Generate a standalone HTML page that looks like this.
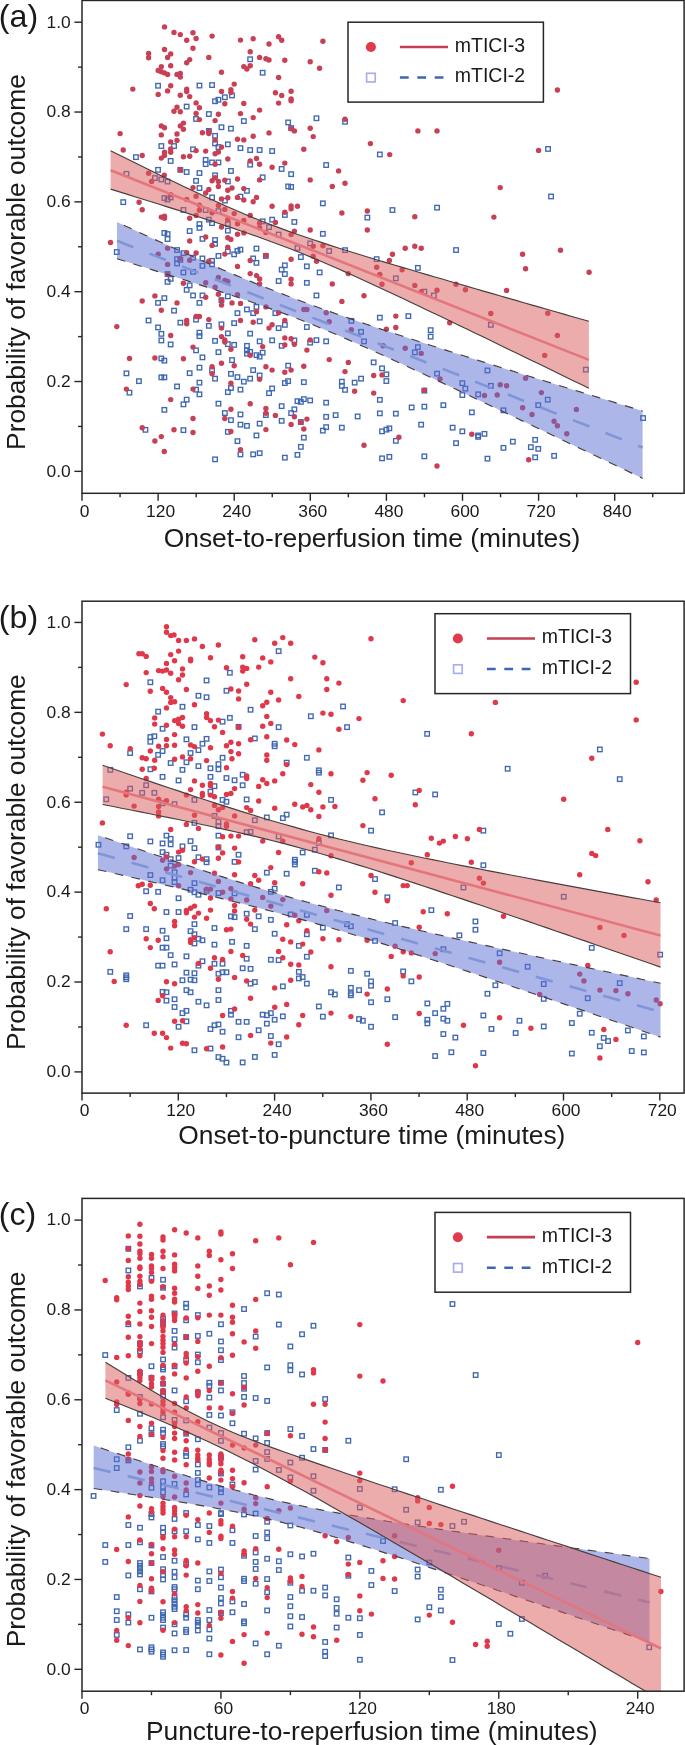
<!DOCTYPE html>
<html><head><meta charset="utf-8"><title>Probability of favorable outcome</title>
<style>html,body{margin:0;padding:0;background:#fff}svg{display:block;will-change:transform}text{font-family:"Liberation Sans",sans-serif;fill:#1a1a1a}</style></head><body>
<svg width="685" height="1745" viewBox="0 0 685 1745">
<rect width="685" height="1745" fill="#fff"/>
<g id="panel-a">
<clipPath id="clipa"><rect x="82.0" y="0.45" width="602.1" height="492.85"/></clipPath>
<g>
<g fill="none" stroke="#4068B2" stroke-width="1.35">
<rect x="155.8" y="83.5" width="4.5" height="4.5"/>
<rect x="197.2" y="83.3" width="4.5" height="4.5"/>
<rect x="209.8" y="82.8" width="4.5" height="4.5"/>
<rect x="184.4" y="104.3" width="4.5" height="4.5"/>
<rect x="212.8" y="99.0" width="4.5" height="4.5"/>
<rect x="216.2" y="97.5" width="4.5" height="4.5"/>
<rect x="222.6" y="95.0" width="4.5" height="4.5"/>
<rect x="229.8" y="93.2" width="4.5" height="4.5"/>
<rect x="206.6" y="111.8" width="4.5" height="4.5"/>
<rect x="193.8" y="116.7" width="4.5" height="4.5"/>
<rect x="219.2" y="125.0" width="4.5" height="4.5"/>
<rect x="228.7" y="126.4" width="4.5" height="4.5"/>
<rect x="206.6" y="128.7" width="4.5" height="4.5"/>
<rect x="212.8" y="133.6" width="4.5" height="4.5"/>
<rect x="212.8" y="141.2" width="4.5" height="4.5"/>
<rect x="216.2" y="144.8" width="4.5" height="4.5"/>
<rect x="225.6" y="142.1" width="4.5" height="4.5"/>
<rect x="159.1" y="143.8" width="4.5" height="4.5"/>
<rect x="171.8" y="143.8" width="4.5" height="4.5"/>
<rect x="190.8" y="147.1" width="4.5" height="4.5"/>
<rect x="133.7" y="154.9" width="4.5" height="4.5"/>
<rect x="168.4" y="158.7" width="4.5" height="4.5"/>
<rect x="203.4" y="157.6" width="4.5" height="4.5"/>
<rect x="209.8" y="160.2" width="4.5" height="4.5"/>
<rect x="216.2" y="160.2" width="4.5" height="4.5"/>
<rect x="203.4" y="161.9" width="4.5" height="4.5"/>
<rect x="247.9" y="57.0" width="4.5" height="4.5"/>
<rect x="260.4" y="70.5" width="4.5" height="4.5"/>
<rect x="241.6" y="118.8" width="4.5" height="4.5"/>
<rect x="285.9" y="120.2" width="4.5" height="4.5"/>
<rect x="288.9" y="125.8" width="4.5" height="4.5"/>
<rect x="314.2" y="116.0" width="4.5" height="4.5"/>
<rect x="342.8" y="119.5" width="4.5" height="4.5"/>
<rect x="238.2" y="145.9" width="4.5" height="4.5"/>
<rect x="247.9" y="147.8" width="4.5" height="4.5"/>
<rect x="257.4" y="147.8" width="4.5" height="4.5"/>
<rect x="269.9" y="148.8" width="4.5" height="4.5"/>
<rect x="377.6" y="152.2" width="4.5" height="4.5"/>
<rect x="247.9" y="162.4" width="4.5" height="4.5"/>
<rect x="323.9" y="162.8" width="4.5" height="4.5"/>
<rect x="545.8" y="146.7" width="4.5" height="4.5"/>
<rect x="124.2" y="171.6" width="4.5" height="4.5"/>
<rect x="155.8" y="167.6" width="4.5" height="4.5"/>
<rect x="152.7" y="175.8" width="4.5" height="4.5"/>
<rect x="159.1" y="177.2" width="4.5" height="4.5"/>
<rect x="165.3" y="179.3" width="4.5" height="4.5"/>
<rect x="178.1" y="167.6" width="4.5" height="4.5"/>
<rect x="184.4" y="169.8" width="4.5" height="4.5"/>
<rect x="197.2" y="170.8" width="4.5" height="4.5"/>
<rect x="193.8" y="178.6" width="4.5" height="4.5"/>
<rect x="197.2" y="185.8" width="4.5" height="4.5"/>
<rect x="212.8" y="173.1" width="4.5" height="4.5"/>
<rect x="225.6" y="179.2" width="4.5" height="4.5"/>
<rect x="228.7" y="168.7" width="4.5" height="4.5"/>
<rect x="209.8" y="195.2" width="4.5" height="4.5"/>
<rect x="222.6" y="198.4" width="4.5" height="4.5"/>
<rect x="162.1" y="195.8" width="4.5" height="4.5"/>
<rect x="165.3" y="197.3" width="4.5" height="4.5"/>
<rect x="168.4" y="195.2" width="4.5" height="4.5"/>
<rect x="181.2" y="207.7" width="4.5" height="4.5"/>
<rect x="203.4" y="207.8" width="4.5" height="4.5"/>
<rect x="216.2" y="208.9" width="4.5" height="4.5"/>
<rect x="206.6" y="217.4" width="4.5" height="4.5"/>
<rect x="209.8" y="220.9" width="4.5" height="4.5"/>
<rect x="197.2" y="221.8" width="4.5" height="4.5"/>
<rect x="197.2" y="225.6" width="4.5" height="4.5"/>
<rect x="225.6" y="221.8" width="4.5" height="4.5"/>
<rect x="225.6" y="228.4" width="4.5" height="4.5"/>
<rect x="121.0" y="199.9" width="4.5" height="4.5"/>
<rect x="187.4" y="228.8" width="4.5" height="4.5"/>
<rect x="162.1" y="230.7" width="4.5" height="4.5"/>
<rect x="165.3" y="231.8" width="4.5" height="4.5"/>
<rect x="165.3" y="236.8" width="4.5" height="4.5"/>
<rect x="200.2" y="236.6" width="4.5" height="4.5"/>
<rect x="212.8" y="237.8" width="4.5" height="4.5"/>
<rect x="212.8" y="241.6" width="4.5" height="4.5"/>
<rect x="114.5" y="249.8" width="4.5" height="4.5"/>
<rect x="174.8" y="247.8" width="4.5" height="4.5"/>
<rect x="181.2" y="250.9" width="4.5" height="4.5"/>
<rect x="190.8" y="255.4" width="4.5" height="4.5"/>
<rect x="200.2" y="256.2" width="4.5" height="4.5"/>
<rect x="209.8" y="258.6" width="4.5" height="4.5"/>
<rect x="209.8" y="262.1" width="4.5" height="4.5"/>
<rect x="200.2" y="263.6" width="4.5" height="4.5"/>
<rect x="216.2" y="253.7" width="4.5" height="4.5"/>
<rect x="225.6" y="249.2" width="4.5" height="4.5"/>
<rect x="174.8" y="256.9" width="4.5" height="4.5"/>
<rect x="174.8" y="261.2" width="4.5" height="4.5"/>
<rect x="178.1" y="257.6" width="4.5" height="4.5"/>
<rect x="181.2" y="270.2" width="4.5" height="4.5"/>
<rect x="190.8" y="269.6" width="4.5" height="4.5"/>
<rect x="165.3" y="271.8" width="4.5" height="4.5"/>
<rect x="168.4" y="276.6" width="4.5" height="4.5"/>
<rect x="165.3" y="279.6" width="4.5" height="4.5"/>
<rect x="187.4" y="283.1" width="4.5" height="4.5"/>
<rect x="184.4" y="287.6" width="4.5" height="4.5"/>
<rect x="190.8" y="293.2" width="4.5" height="4.5"/>
<rect x="200.2" y="293.2" width="4.5" height="4.5"/>
<rect x="225.6" y="294.1" width="4.5" height="4.5"/>
<rect x="162.1" y="295.9" width="4.5" height="4.5"/>
<rect x="155.8" y="300.6" width="4.5" height="4.5"/>
<rect x="197.2" y="300.6" width="4.5" height="4.5"/>
<rect x="219.2" y="297.9" width="4.5" height="4.5"/>
<rect x="171.8" y="308.4" width="4.5" height="4.5"/>
<rect x="146.3" y="318.2" width="4.5" height="4.5"/>
<rect x="178.1" y="320.4" width="4.5" height="4.5"/>
<rect x="193.8" y="317.4" width="4.5" height="4.5"/>
<rect x="206.6" y="323.6" width="4.5" height="4.5"/>
<rect x="219.2" y="322.1" width="4.5" height="4.5"/>
<rect x="155.8" y="325.2" width="4.5" height="4.5"/>
<rect x="279.4" y="166.7" width="4.5" height="4.5"/>
<rect x="288.9" y="171.9" width="4.5" height="4.5"/>
<rect x="260.4" y="175.1" width="4.5" height="4.5"/>
<rect x="285.9" y="184.2" width="4.5" height="4.5"/>
<rect x="288.9" y="184.7" width="4.5" height="4.5"/>
<rect x="244.7" y="188.6" width="4.5" height="4.5"/>
<rect x="238.2" y="194.4" width="4.5" height="4.5"/>
<rect x="320.6" y="201.1" width="4.5" height="4.5"/>
<rect x="282.6" y="212.7" width="4.5" height="4.5"/>
<rect x="269.9" y="217.4" width="4.5" height="4.5"/>
<rect x="260.4" y="219.1" width="4.5" height="4.5"/>
<rect x="292.1" y="219.7" width="4.5" height="4.5"/>
<rect x="266.8" y="224.9" width="4.5" height="4.5"/>
<rect x="276.4" y="232.3" width="4.5" height="4.5"/>
<rect x="320.6" y="231.6" width="4.5" height="4.5"/>
<rect x="365.1" y="215.3" width="4.5" height="4.5"/>
<rect x="307.9" y="241.2" width="4.5" height="4.5"/>
<rect x="295.2" y="245.9" width="4.5" height="4.5"/>
<rect x="326.9" y="248.8" width="4.5" height="4.5"/>
<rect x="342.8" y="247.9" width="4.5" height="4.5"/>
<rect x="374.4" y="256.9" width="4.5" height="4.5"/>
<rect x="254.2" y="246.3" width="4.5" height="4.5"/>
<rect x="238.2" y="247.4" width="4.5" height="4.5"/>
<rect x="235.2" y="248.6" width="4.5" height="4.5"/>
<rect x="231.9" y="252.1" width="4.5" height="4.5"/>
<rect x="250.9" y="256.2" width="4.5" height="4.5"/>
<rect x="254.2" y="260.6" width="4.5" height="4.5"/>
<rect x="263.6" y="253.7" width="4.5" height="4.5"/>
<rect x="298.6" y="254.8" width="4.5" height="4.5"/>
<rect x="282.6" y="263.1" width="4.5" height="4.5"/>
<rect x="279.4" y="267.4" width="4.5" height="4.5"/>
<rect x="282.6" y="271.8" width="4.5" height="4.5"/>
<rect x="304.6" y="264.1" width="4.5" height="4.5"/>
<rect x="317.4" y="270.2" width="4.5" height="4.5"/>
<rect x="276.4" y="278.8" width="4.5" height="4.5"/>
<rect x="304.6" y="280.6" width="4.5" height="4.5"/>
<rect x="314.2" y="293.2" width="4.5" height="4.5"/>
<rect x="254.2" y="304.6" width="4.5" height="4.5"/>
<rect x="244.7" y="307.2" width="4.5" height="4.5"/>
<rect x="250.9" y="310.9" width="4.5" height="4.5"/>
<rect x="235.2" y="310.9" width="4.5" height="4.5"/>
<rect x="273.1" y="310.9" width="4.5" height="4.5"/>
<rect x="257.4" y="319.1" width="4.5" height="4.5"/>
<rect x="231.9" y="320.9" width="4.5" height="4.5"/>
<rect x="282.6" y="322.6" width="4.5" height="4.5"/>
<rect x="276.4" y="325.9" width="4.5" height="4.5"/>
<rect x="304.6" y="324.8" width="4.5" height="4.5"/>
<rect x="349.1" y="318.6" width="4.5" height="4.5"/>
<rect x="377.6" y="315.4" width="4.5" height="4.5"/>
<rect x="390.2" y="207.8" width="4.5" height="4.5"/>
<rect x="434.8" y="205.4" width="4.5" height="4.5"/>
<rect x="453.8" y="247.8" width="4.5" height="4.5"/>
<rect x="415.6" y="265.6" width="4.5" height="4.5"/>
<rect x="393.6" y="276.1" width="4.5" height="4.5"/>
<rect x="422.1" y="289.4" width="4.5" height="4.5"/>
<rect x="431.6" y="293.2" width="4.5" height="4.5"/>
<rect x="406.1" y="313.9" width="4.5" height="4.5"/>
<rect x="488.6" y="322.6" width="4.5" height="4.5"/>
<rect x="428.4" y="327.9" width="4.5" height="4.5"/>
<rect x="548.8" y="194.2" width="4.5" height="4.5"/>
<rect x="159.1" y="331.6" width="4.5" height="4.5"/>
<rect x="159.1" y="338.2" width="4.5" height="4.5"/>
<rect x="168.4" y="342.2" width="4.5" height="4.5"/>
<rect x="197.2" y="330.4" width="4.5" height="4.5"/>
<rect x="197.2" y="333.9" width="4.5" height="4.5"/>
<rect x="225.6" y="331.1" width="4.5" height="4.5"/>
<rect x="212.8" y="338.6" width="4.5" height="4.5"/>
<rect x="225.6" y="341.9" width="4.5" height="4.5"/>
<rect x="193.8" y="348.1" width="4.5" height="4.5"/>
<rect x="216.2" y="349.9" width="4.5" height="4.5"/>
<rect x="200.2" y="355.1" width="4.5" height="4.5"/>
<rect x="159.1" y="356.2" width="4.5" height="4.5"/>
<rect x="162.1" y="358.4" width="4.5" height="4.5"/>
<rect x="229.8" y="357.9" width="4.5" height="4.5"/>
<rect x="197.2" y="365.4" width="4.5" height="4.5"/>
<rect x="209.8" y="368.1" width="4.5" height="4.5"/>
<rect x="187.4" y="370.9" width="4.5" height="4.5"/>
<rect x="228.7" y="371.6" width="4.5" height="4.5"/>
<rect x="124.2" y="371.1" width="4.5" height="4.5"/>
<rect x="159.1" y="375.1" width="4.5" height="4.5"/>
<rect x="162.1" y="375.1" width="4.5" height="4.5"/>
<rect x="212.8" y="376.4" width="4.5" height="4.5"/>
<rect x="136.7" y="378.9" width="4.5" height="4.5"/>
<rect x="197.2" y="380.4" width="4.5" height="4.5"/>
<rect x="174.8" y="384.2" width="4.5" height="4.5"/>
<rect x="193.8" y="387.4" width="4.5" height="4.5"/>
<rect x="197.2" y="392.1" width="4.5" height="4.5"/>
<rect x="127.2" y="390.4" width="4.5" height="4.5"/>
<rect x="225.6" y="389.9" width="4.5" height="4.5"/>
<rect x="228.7" y="385.8" width="4.5" height="4.5"/>
<rect x="184.4" y="397.4" width="4.5" height="4.5"/>
<rect x="181.2" y="402.1" width="4.5" height="4.5"/>
<rect x="216.2" y="401.4" width="4.5" height="4.5"/>
<rect x="162.1" y="407.6" width="4.5" height="4.5"/>
<rect x="222.6" y="410.8" width="4.5" height="4.5"/>
<rect x="228.7" y="417.9" width="4.5" height="4.5"/>
<rect x="143.2" y="427.6" width="4.5" height="4.5"/>
<rect x="181.2" y="427.9" width="4.5" height="4.5"/>
<rect x="225.6" y="429.6" width="4.5" height="4.5"/>
<rect x="212.8" y="457.1" width="4.5" height="4.5"/>
<rect x="247.9" y="331.4" width="4.5" height="4.5"/>
<rect x="269.9" y="338.1" width="4.5" height="4.5"/>
<rect x="257.4" y="339.1" width="4.5" height="4.5"/>
<rect x="292.1" y="338.2" width="4.5" height="4.5"/>
<rect x="307.9" y="340.4" width="4.5" height="4.5"/>
<rect x="314.2" y="337.9" width="4.5" height="4.5"/>
<rect x="323.9" y="339.1" width="4.5" height="4.5"/>
<rect x="279.4" y="343.6" width="4.5" height="4.5"/>
<rect x="231.9" y="342.6" width="4.5" height="4.5"/>
<rect x="244.7" y="343.6" width="4.5" height="4.5"/>
<rect x="244.7" y="348.1" width="4.5" height="4.5"/>
<rect x="247.9" y="349.6" width="4.5" height="4.5"/>
<rect x="244.7" y="351.4" width="4.5" height="4.5"/>
<rect x="254.2" y="352.9" width="4.5" height="4.5"/>
<rect x="257.4" y="354.4" width="4.5" height="4.5"/>
<rect x="260.4" y="350.4" width="4.5" height="4.5"/>
<rect x="285.9" y="363.4" width="4.5" height="4.5"/>
<rect x="250.9" y="367.9" width="4.5" height="4.5"/>
<rect x="257.4" y="373.2" width="4.5" height="4.5"/>
<rect x="235.2" y="374.9" width="4.5" height="4.5"/>
<rect x="241.6" y="379.4" width="4.5" height="4.5"/>
<rect x="247.9" y="376.4" width="4.5" height="4.5"/>
<rect x="285.9" y="378.9" width="4.5" height="4.5"/>
<rect x="282.6" y="380.8" width="4.5" height="4.5"/>
<rect x="301.6" y="379.9" width="4.5" height="4.5"/>
<rect x="238.2" y="387.4" width="4.5" height="4.5"/>
<rect x="269.9" y="386.2" width="4.5" height="4.5"/>
<rect x="266.8" y="390.9" width="4.5" height="4.5"/>
<rect x="339.6" y="379.4" width="4.5" height="4.5"/>
<rect x="339.6" y="383.6" width="4.5" height="4.5"/>
<rect x="342.8" y="387.6" width="4.5" height="4.5"/>
<rect x="352.4" y="380.4" width="4.5" height="4.5"/>
<rect x="358.8" y="376.4" width="4.5" height="4.5"/>
<rect x="371.4" y="360.1" width="4.5" height="4.5"/>
<rect x="379.8" y="366.1" width="4.5" height="4.5"/>
<rect x="295.2" y="398.9" width="4.5" height="4.5"/>
<rect x="298.6" y="399.6" width="4.5" height="4.5"/>
<rect x="301.6" y="396.9" width="4.5" height="4.5"/>
<rect x="307.9" y="398.2" width="4.5" height="4.5"/>
<rect x="323.9" y="400.4" width="4.5" height="4.5"/>
<rect x="279.4" y="403.9" width="4.5" height="4.5"/>
<rect x="292.1" y="407.1" width="4.5" height="4.5"/>
<rect x="288.9" y="410.9" width="4.5" height="4.5"/>
<rect x="238.2" y="412.2" width="4.5" height="4.5"/>
<rect x="263.6" y="412.8" width="4.5" height="4.5"/>
<rect x="298.6" y="419.8" width="4.5" height="4.5"/>
<rect x="279.4" y="418.6" width="4.5" height="4.5"/>
<rect x="238.2" y="422.4" width="4.5" height="4.5"/>
<rect x="244.7" y="423.6" width="4.5" height="4.5"/>
<rect x="257.4" y="421.4" width="4.5" height="4.5"/>
<rect x="323.9" y="414.6" width="4.5" height="4.5"/>
<rect x="333.4" y="412.9" width="4.5" height="4.5"/>
<rect x="355.4" y="414.2" width="4.5" height="4.5"/>
<rect x="377.6" y="411.1" width="4.5" height="4.5"/>
<rect x="377.6" y="397.6" width="4.5" height="4.5"/>
<rect x="323.9" y="424.9" width="4.5" height="4.5"/>
<rect x="320.6" y="428.4" width="4.5" height="4.5"/>
<rect x="339.6" y="425.4" width="4.5" height="4.5"/>
<rect x="379.8" y="429.1" width="4.5" height="4.5"/>
<rect x="254.2" y="433.2" width="4.5" height="4.5"/>
<rect x="235.2" y="438.9" width="4.5" height="4.5"/>
<rect x="301.6" y="435.4" width="4.5" height="4.5"/>
<rect x="298.6" y="444.6" width="4.5" height="4.5"/>
<rect x="295.2" y="452.6" width="4.5" height="4.5"/>
<rect x="282.6" y="455.4" width="4.5" height="4.5"/>
<rect x="238.2" y="452.1" width="4.5" height="4.5"/>
<rect x="250.9" y="452.1" width="4.5" height="4.5"/>
<rect x="257.4" y="450.9" width="4.5" height="4.5"/>
<rect x="379.8" y="456.1" width="4.5" height="4.5"/>
<rect x="358.8" y="329.6" width="4.5" height="4.5"/>
<rect x="361.8" y="339.1" width="4.5" height="4.5"/>
<rect x="428.4" y="334.4" width="4.5" height="4.5"/>
<rect x="415.6" y="344.9" width="4.5" height="4.5"/>
<rect x="412.6" y="350.1" width="4.5" height="4.5"/>
<rect x="384.1" y="372.1" width="4.5" height="4.5"/>
<rect x="384.1" y="378.8" width="4.5" height="4.5"/>
<rect x="434.8" y="371.4" width="4.5" height="4.5"/>
<rect x="460.1" y="380.9" width="4.5" height="4.5"/>
<rect x="463.1" y="386.4" width="4.5" height="4.5"/>
<rect x="460.1" y="392.8" width="4.5" height="4.5"/>
<rect x="475.9" y="392.1" width="4.5" height="4.5"/>
<rect x="488.6" y="383.6" width="4.5" height="4.5"/>
<rect x="485.2" y="368.2" width="4.5" height="4.5"/>
<rect x="422.1" y="388.4" width="4.5" height="4.5"/>
<rect x="409.4" y="405.2" width="4.5" height="4.5"/>
<rect x="422.1" y="404.4" width="4.5" height="4.5"/>
<rect x="441.1" y="402.9" width="4.5" height="4.5"/>
<rect x="393.6" y="411.4" width="4.5" height="4.5"/>
<rect x="469.6" y="410.1" width="4.5" height="4.5"/>
<rect x="501.2" y="408.1" width="4.5" height="4.5"/>
<rect x="418.9" y="422.4" width="4.5" height="4.5"/>
<rect x="387.1" y="426.1" width="4.5" height="4.5"/>
<rect x="384.1" y="427.4" width="4.5" height="4.5"/>
<rect x="450.4" y="425.4" width="4.5" height="4.5"/>
<rect x="460.1" y="429.1" width="4.5" height="4.5"/>
<rect x="475.9" y="433.2" width="4.5" height="4.5"/>
<rect x="475.9" y="434.6" width="4.5" height="4.5"/>
<rect x="482.2" y="431.6" width="4.5" height="4.5"/>
<rect x="393.6" y="438.6" width="4.5" height="4.5"/>
<rect x="453.8" y="440.9" width="4.5" height="4.5"/>
<rect x="510.6" y="439.4" width="4.5" height="4.5"/>
<rect x="501.2" y="445.6" width="4.5" height="4.5"/>
<rect x="528.6" y="444.9" width="4.5" height="4.5"/>
<rect x="387.1" y="454.6" width="4.5" height="4.5"/>
<rect x="422.1" y="454.1" width="4.5" height="4.5"/>
<rect x="485.2" y="456.4" width="4.5" height="4.5"/>
<rect x="583.6" y="367.4" width="4.5" height="4.5"/>
<rect x="545.5" y="397.4" width="4.5" height="4.5"/>
<rect x="536.0" y="402.9" width="4.5" height="4.5"/>
<rect x="640.8" y="415.8" width="4.5" height="4.5"/>
<rect x="532.9" y="437.6" width="4.5" height="4.5"/>
<rect x="536.0" y="446.6" width="4.5" height="4.5"/>
<rect x="532.9" y="455.1" width="4.5" height="4.5"/>
<rect x="551.9" y="453.6" width="4.5" height="4.5"/>
</g>
<g fill="#C84056">
<circle cx="164.5" cy="26.9" r="2.7"/>
<circle cx="174.0" cy="32.4" r="2.7"/>
<circle cx="180.3" cy="34.6" r="2.7"/>
<circle cx="193.0" cy="32.8" r="2.7"/>
<circle cx="186.7" cy="40.3" r="2.7"/>
<circle cx="196.1" cy="38.5" r="2.7"/>
<circle cx="212.1" cy="36.1" r="2.7"/>
<circle cx="193.0" cy="48.2" r="2.7"/>
<circle cx="164.5" cy="49.5" r="2.7"/>
<circle cx="170.7" cy="53.9" r="2.7"/>
<circle cx="167.6" cy="57.4" r="2.7"/>
<circle cx="148.6" cy="53.4" r="2.7"/>
<circle cx="148.6" cy="57.8" r="2.7"/>
<circle cx="208.8" cy="57.4" r="2.7"/>
<circle cx="189.7" cy="59.6" r="2.7"/>
<circle cx="186.7" cy="62.8" r="2.7"/>
<circle cx="170.7" cy="65.7" r="2.7"/>
<circle cx="161.3" cy="66.6" r="2.7"/>
<circle cx="158.2" cy="70.5" r="2.7"/>
<circle cx="161.3" cy="71.8" r="2.7"/>
<circle cx="164.5" cy="72.9" r="2.7"/>
<circle cx="167.6" cy="74.4" r="2.7"/>
<circle cx="177.0" cy="74.4" r="2.7"/>
<circle cx="180.3" cy="73.4" r="2.7"/>
<circle cx="180.3" cy="77.1" r="2.7"/>
<circle cx="221.5" cy="72.3" r="2.7"/>
<circle cx="132.8" cy="89.1" r="2.7"/>
<circle cx="170.7" cy="85.8" r="2.7"/>
<circle cx="167.6" cy="90.9" r="2.7"/>
<circle cx="158.2" cy="94.4" r="2.7"/>
<circle cx="186.7" cy="89.1" r="2.7"/>
<circle cx="186.7" cy="91.5" r="2.7"/>
<circle cx="180.3" cy="95.2" r="2.7"/>
<circle cx="189.7" cy="96.6" r="2.7"/>
<circle cx="221.5" cy="91.5" r="2.7"/>
<circle cx="230.9" cy="89.8" r="2.7"/>
<circle cx="230.9" cy="92.4" r="2.7"/>
<circle cx="196.1" cy="102.9" r="2.7"/>
<circle cx="199.4" cy="107.7" r="2.7"/>
<circle cx="224.8" cy="103.8" r="2.7"/>
<circle cx="177.0" cy="107.3" r="2.7"/>
<circle cx="174.0" cy="111.2" r="2.7"/>
<circle cx="180.3" cy="111.7" r="2.7"/>
<circle cx="196.1" cy="113.4" r="2.7"/>
<circle cx="218.4" cy="114.3" r="2.7"/>
<circle cx="199.4" cy="119.6" r="2.7"/>
<circle cx="215.1" cy="120.6" r="2.7"/>
<circle cx="161.3" cy="125.9" r="2.7"/>
<circle cx="164.5" cy="127.7" r="2.7"/>
<circle cx="180.3" cy="125.9" r="2.7"/>
<circle cx="183.4" cy="123.1" r="2.7"/>
<circle cx="183.4" cy="129.2" r="2.7"/>
<circle cx="120.1" cy="133.6" r="2.7"/>
<circle cx="161.3" cy="134.9" r="2.7"/>
<circle cx="177.0" cy="134.0" r="2.7"/>
<circle cx="202.4" cy="132.7" r="2.7"/>
<circle cx="208.8" cy="131.4" r="2.7"/>
<circle cx="208.8" cy="133.6" r="2.7"/>
<circle cx="177.0" cy="140.4" r="2.7"/>
<circle cx="170.7" cy="141.9" r="2.7"/>
<circle cx="215.1" cy="140.1" r="2.7"/>
<circle cx="221.5" cy="147.1" r="2.7"/>
<circle cx="123.2" cy="150.0" r="2.7"/>
<circle cx="170.7" cy="148.9" r="2.7"/>
<circle cx="170.7" cy="152.2" r="2.7"/>
<circle cx="164.5" cy="152.2" r="2.7"/>
<circle cx="164.5" cy="155.5" r="2.7"/>
<circle cx="161.3" cy="158.1" r="2.7"/>
<circle cx="142.2" cy="155.5" r="2.7"/>
<circle cx="183.4" cy="156.8" r="2.7"/>
<circle cx="189.7" cy="156.3" r="2.7"/>
<circle cx="196.1" cy="150.6" r="2.7"/>
<circle cx="205.7" cy="151.1" r="2.7"/>
<circle cx="215.1" cy="153.7" r="2.7"/>
<circle cx="218.4" cy="152.0" r="2.7"/>
<circle cx="227.8" cy="159.0" r="2.7"/>
<circle cx="215.1" cy="164.2" r="2.7"/>
<circle cx="240.5" cy="40.1" r="2.7"/>
<circle cx="253.2" cy="38.8" r="2.7"/>
<circle cx="278.6" cy="36.8" r="2.7"/>
<circle cx="281.7" cy="40.3" r="2.7"/>
<circle cx="269.0" cy="44.0" r="2.7"/>
<circle cx="322.9" cy="41.2" r="2.7"/>
<circle cx="250.2" cy="51.7" r="2.7"/>
<circle cx="259.6" cy="57.4" r="2.7"/>
<circle cx="265.9" cy="58.7" r="2.7"/>
<circle cx="269.0" cy="60.0" r="2.7"/>
<circle cx="284.8" cy="60.2" r="2.7"/>
<circle cx="310.2" cy="61.7" r="2.7"/>
<circle cx="319.6" cy="68.3" r="2.7"/>
<circle cx="243.8" cy="66.6" r="2.7"/>
<circle cx="246.9" cy="69.0" r="2.7"/>
<circle cx="250.2" cy="65.7" r="2.7"/>
<circle cx="278.6" cy="77.5" r="2.7"/>
<circle cx="234.2" cy="84.1" r="2.7"/>
<circle cx="275.4" cy="92.8" r="2.7"/>
<circle cx="281.7" cy="95.5" r="2.7"/>
<circle cx="291.1" cy="91.3" r="2.7"/>
<circle cx="291.1" cy="99.0" r="2.7"/>
<circle cx="291.1" cy="100.7" r="2.7"/>
<circle cx="243.8" cy="103.4" r="2.7"/>
<circle cx="278.6" cy="103.1" r="2.7"/>
<circle cx="259.6" cy="110.1" r="2.7"/>
<circle cx="240.5" cy="113.6" r="2.7"/>
<circle cx="253.2" cy="117.6" r="2.7"/>
<circle cx="345.0" cy="119.3" r="2.7"/>
<circle cx="310.2" cy="128.3" r="2.7"/>
<circle cx="291.1" cy="128.7" r="2.7"/>
<circle cx="294.4" cy="130.9" r="2.7"/>
<circle cx="269.0" cy="132.9" r="2.7"/>
<circle cx="253.2" cy="136.2" r="2.7"/>
<circle cx="313.2" cy="136.6" r="2.7"/>
<circle cx="237.5" cy="139.3" r="2.7"/>
<circle cx="243.8" cy="139.9" r="2.7"/>
<circle cx="370.4" cy="143.6" r="2.7"/>
<circle cx="303.8" cy="149.3" r="2.7"/>
<circle cx="250.2" cy="160.9" r="2.7"/>
<circle cx="256.5" cy="158.5" r="2.7"/>
<circle cx="259.6" cy="164.2" r="2.7"/>
<circle cx="284.8" cy="163.1" r="2.7"/>
<circle cx="417.9" cy="130.9" r="2.7"/>
<circle cx="437.0" cy="130.9" r="2.7"/>
<circle cx="389.7" cy="154.6" r="2.7"/>
<circle cx="557.4" cy="90.0" r="2.7"/>
<circle cx="538.6" cy="150.4" r="2.7"/>
<circle cx="148.6" cy="173.3" r="2.7"/>
<circle cx="151.6" cy="181.4" r="2.7"/>
<circle cx="164.3" cy="175.3" r="2.7"/>
<circle cx="180.3" cy="169.8" r="2.7"/>
<circle cx="170.7" cy="194.6" r="2.7"/>
<circle cx="186.7" cy="199.4" r="2.7"/>
<circle cx="193.0" cy="187.6" r="2.7"/>
<circle cx="196.1" cy="196.3" r="2.7"/>
<circle cx="199.4" cy="205.1" r="2.7"/>
<circle cx="199.4" cy="210.3" r="2.7"/>
<circle cx="196.1" cy="215.4" r="2.7"/>
<circle cx="189.7" cy="218.2" r="2.7"/>
<circle cx="205.7" cy="193.0" r="2.7"/>
<circle cx="208.8" cy="189.5" r="2.7"/>
<circle cx="212.1" cy="180.8" r="2.7"/>
<circle cx="215.1" cy="177.7" r="2.7"/>
<circle cx="218.4" cy="181.4" r="2.7"/>
<circle cx="218.4" cy="186.5" r="2.7"/>
<circle cx="224.8" cy="180.3" r="2.7"/>
<circle cx="221.5" cy="198.9" r="2.7"/>
<circle cx="227.8" cy="197.8" r="2.7"/>
<circle cx="227.8" cy="190.2" r="2.7"/>
<circle cx="232.0" cy="188.0" r="2.7"/>
<circle cx="218.4" cy="205.5" r="2.7"/>
<circle cx="224.8" cy="209.4" r="2.7"/>
<circle cx="212.1" cy="212.7" r="2.7"/>
<circle cx="227.8" cy="219.7" r="2.7"/>
<circle cx="221.5" cy="227.0" r="2.7"/>
<circle cx="227.8" cy="237.7" r="2.7"/>
<circle cx="230.9" cy="239.4" r="2.7"/>
<circle cx="139.1" cy="202.2" r="2.7"/>
<circle cx="142.2" cy="209.7" r="2.7"/>
<circle cx="161.3" cy="217.1" r="2.7"/>
<circle cx="164.5" cy="216.2" r="2.7"/>
<circle cx="164.5" cy="218.2" r="2.7"/>
<circle cx="205.7" cy="237.0" r="2.7"/>
<circle cx="189.7" cy="241.0" r="2.7"/>
<circle cx="212.1" cy="245.4" r="2.7"/>
<circle cx="227.8" cy="247.3" r="2.7"/>
<circle cx="224.8" cy="254.1" r="2.7"/>
<circle cx="110.5" cy="242.5" r="2.7"/>
<circle cx="158.2" cy="254.3" r="2.7"/>
<circle cx="167.6" cy="248.2" r="2.7"/>
<circle cx="186.7" cy="252.6" r="2.7"/>
<circle cx="196.1" cy="253.0" r="2.7"/>
<circle cx="180.3" cy="258.5" r="2.7"/>
<circle cx="189.7" cy="260.2" r="2.7"/>
<circle cx="208.8" cy="261.3" r="2.7"/>
<circle cx="167.6" cy="264.4" r="2.7"/>
<circle cx="167.6" cy="274.5" r="2.7"/>
<circle cx="183.4" cy="283.2" r="2.7"/>
<circle cx="205.7" cy="282.8" r="2.7"/>
<circle cx="215.1" cy="287.2" r="2.7"/>
<circle cx="218.4" cy="277.5" r="2.7"/>
<circle cx="224.8" cy="280.4" r="2.7"/>
<circle cx="227.8" cy="281.5" r="2.7"/>
<circle cx="154.9" cy="295.9" r="2.7"/>
<circle cx="142.2" cy="301.0" r="2.7"/>
<circle cx="177.0" cy="302.9" r="2.7"/>
<circle cx="205.7" cy="297.3" r="2.7"/>
<circle cx="218.4" cy="294.2" r="2.7"/>
<circle cx="221.5" cy="300.1" r="2.7"/>
<circle cx="221.5" cy="305.1" r="2.7"/>
<circle cx="161.3" cy="310.2" r="2.7"/>
<circle cx="116.8" cy="326.6" r="2.7"/>
<circle cx="186.7" cy="320.5" r="2.7"/>
<circle cx="186.7" cy="323.7" r="2.7"/>
<circle cx="196.1" cy="316.5" r="2.7"/>
<circle cx="199.4" cy="316.5" r="2.7"/>
<circle cx="208.8" cy="319.6" r="2.7"/>
<circle cx="221.5" cy="328.1" r="2.7"/>
<circle cx="232.0" cy="302.9" r="2.7"/>
<circle cx="272.1" cy="167.2" r="2.7"/>
<circle cx="338.6" cy="170.9" r="2.7"/>
<circle cx="237.5" cy="179.0" r="2.7"/>
<circle cx="259.6" cy="179.9" r="2.7"/>
<circle cx="310.2" cy="179.9" r="2.7"/>
<circle cx="345.0" cy="183.2" r="2.7"/>
<circle cx="332.3" cy="186.5" r="2.7"/>
<circle cx="243.8" cy="188.6" r="2.7"/>
<circle cx="237.5" cy="197.4" r="2.7"/>
<circle cx="243.8" cy="200.0" r="2.7"/>
<circle cx="256.5" cy="197.4" r="2.7"/>
<circle cx="253.2" cy="201.8" r="2.7"/>
<circle cx="272.1" cy="206.2" r="2.7"/>
<circle cx="291.1" cy="205.9" r="2.7"/>
<circle cx="297.5" cy="206.2" r="2.7"/>
<circle cx="291.1" cy="208.8" r="2.7"/>
<circle cx="284.8" cy="212.3" r="2.7"/>
<circle cx="341.9" cy="213.0" r="2.7"/>
<circle cx="367.3" cy="211.0" r="2.7"/>
<circle cx="234.2" cy="213.6" r="2.7"/>
<circle cx="250.2" cy="215.4" r="2.7"/>
<circle cx="243.8" cy="220.4" r="2.7"/>
<circle cx="237.5" cy="223.7" r="2.7"/>
<circle cx="259.6" cy="223.0" r="2.7"/>
<circle cx="259.6" cy="227.8" r="2.7"/>
<circle cx="275.4" cy="222.4" r="2.7"/>
<circle cx="265.9" cy="232.4" r="2.7"/>
<circle cx="294.4" cy="231.1" r="2.7"/>
<circle cx="291.1" cy="234.6" r="2.7"/>
<circle cx="310.2" cy="230.0" r="2.7"/>
<circle cx="367.3" cy="230.0" r="2.7"/>
<circle cx="237.5" cy="234.2" r="2.7"/>
<circle cx="243.8" cy="232.9" r="2.7"/>
<circle cx="313.2" cy="246.2" r="2.7"/>
<circle cx="322.9" cy="245.8" r="2.7"/>
<circle cx="313.2" cy="256.3" r="2.7"/>
<circle cx="316.5" cy="261.3" r="2.7"/>
<circle cx="291.1" cy="259.2" r="2.7"/>
<circle cx="265.9" cy="255.4" r="2.7"/>
<circle cx="250.2" cy="260.5" r="2.7"/>
<circle cx="237.5" cy="266.4" r="2.7"/>
<circle cx="250.2" cy="273.6" r="2.7"/>
<circle cx="256.5" cy="275.6" r="2.7"/>
<circle cx="259.6" cy="278.9" r="2.7"/>
<circle cx="259.6" cy="283.9" r="2.7"/>
<circle cx="291.1" cy="279.3" r="2.7"/>
<circle cx="291.1" cy="283.9" r="2.7"/>
<circle cx="332.3" cy="283.9" r="2.7"/>
<circle cx="348.3" cy="273.6" r="2.7"/>
<circle cx="376.7" cy="267.3" r="2.7"/>
<circle cx="379.8" cy="274.5" r="2.7"/>
<circle cx="382.0" cy="284.3" r="2.7"/>
<circle cx="364.0" cy="295.7" r="2.7"/>
<circle cx="341.9" cy="301.4" r="2.7"/>
<circle cx="237.5" cy="294.8" r="2.7"/>
<circle cx="240.5" cy="303.4" r="2.7"/>
<circle cx="265.9" cy="306.9" r="2.7"/>
<circle cx="303.8" cy="309.5" r="2.7"/>
<circle cx="306.9" cy="309.5" r="2.7"/>
<circle cx="326.2" cy="312.8" r="2.7"/>
<circle cx="329.2" cy="321.8" r="2.7"/>
<circle cx="256.5" cy="311.7" r="2.7"/>
<circle cx="278.6" cy="312.8" r="2.7"/>
<circle cx="284.8" cy="320.5" r="2.7"/>
<circle cx="240.5" cy="320.5" r="2.7"/>
<circle cx="253.2" cy="322.2" r="2.7"/>
<circle cx="272.1" cy="324.8" r="2.7"/>
<circle cx="269.0" cy="328.1" r="2.7"/>
<circle cx="351.3" cy="329.7" r="2.7"/>
<circle cx="500.2" cy="187.6" r="2.7"/>
<circle cx="414.8" cy="216.7" r="2.7"/>
<circle cx="493.9" cy="217.1" r="2.7"/>
<circle cx="405.2" cy="248.2" r="2.7"/>
<circle cx="414.8" cy="246.2" r="2.7"/>
<circle cx="421.2" cy="248.2" r="2.7"/>
<circle cx="392.5" cy="254.3" r="2.7"/>
<circle cx="389.4" cy="260.5" r="2.7"/>
<circle cx="522.6" cy="254.3" r="2.7"/>
<circle cx="525.6" cy="268.8" r="2.7"/>
<circle cx="402.1" cy="269.7" r="2.7"/>
<circle cx="414.8" cy="285.4" r="2.7"/>
<circle cx="421.2" cy="291.6" r="2.7"/>
<circle cx="437.0" cy="290.2" r="2.7"/>
<circle cx="456.0" cy="284.3" r="2.7"/>
<circle cx="465.4" cy="289.8" r="2.7"/>
<circle cx="506.6" cy="290.5" r="2.7"/>
<circle cx="490.8" cy="313.5" r="2.7"/>
<circle cx="395.8" cy="316.1" r="2.7"/>
<circle cx="449.7" cy="322.7" r="2.7"/>
<circle cx="395.8" cy="327.5" r="2.7"/>
<circle cx="386.4" cy="329.2" r="2.7"/>
<circle cx="560.5" cy="250.2" r="2.7"/>
<circle cx="589.1" cy="272.3" r="2.7"/>
<circle cx="547.8" cy="313.2" r="2.7"/>
<circle cx="170.7" cy="335.5" r="2.7"/>
<circle cx="221.5" cy="336.6" r="2.7"/>
<circle cx="224.8" cy="339.9" r="2.7"/>
<circle cx="224.8" cy="342.0" r="2.7"/>
<circle cx="193.0" cy="347.1" r="2.7"/>
<circle cx="230.9" cy="349.3" r="2.7"/>
<circle cx="129.5" cy="358.5" r="2.7"/>
<circle cx="154.9" cy="358.0" r="2.7"/>
<circle cx="183.4" cy="358.7" r="2.7"/>
<circle cx="221.5" cy="363.3" r="2.7"/>
<circle cx="212.1" cy="366.8" r="2.7"/>
<circle cx="212.1" cy="373.8" r="2.7"/>
<circle cx="230.9" cy="383.2" r="2.7"/>
<circle cx="126.4" cy="389.1" r="2.7"/>
<circle cx="193.0" cy="389.1" r="2.7"/>
<circle cx="170.7" cy="399.6" r="2.7"/>
<circle cx="230.9" cy="409.3" r="2.7"/>
<circle cx="193.0" cy="418.5" r="2.7"/>
<circle cx="224.8" cy="418.5" r="2.7"/>
<circle cx="142.2" cy="427.7" r="2.7"/>
<circle cx="174.0" cy="429.8" r="2.7"/>
<circle cx="193.0" cy="432.5" r="2.7"/>
<circle cx="230.9" cy="431.4" r="2.7"/>
<circle cx="161.3" cy="436.6" r="2.7"/>
<circle cx="154.9" cy="441.0" r="2.7"/>
<circle cx="164.3" cy="451.5" r="2.7"/>
<circle cx="284.8" cy="337.9" r="2.7"/>
<circle cx="291.1" cy="338.8" r="2.7"/>
<circle cx="310.2" cy="339.9" r="2.7"/>
<circle cx="284.8" cy="344.9" r="2.7"/>
<circle cx="294.4" cy="344.2" r="2.7"/>
<circle cx="262.7" cy="346.6" r="2.7"/>
<circle cx="306.9" cy="350.1" r="2.7"/>
<circle cx="250.2" cy="355.2" r="2.7"/>
<circle cx="329.2" cy="359.6" r="2.7"/>
<circle cx="348.3" cy="362.4" r="2.7"/>
<circle cx="234.2" cy="365.7" r="2.7"/>
<circle cx="265.9" cy="366.8" r="2.7"/>
<circle cx="272.1" cy="370.1" r="2.7"/>
<circle cx="284.8" cy="372.3" r="2.7"/>
<circle cx="291.1" cy="370.1" r="2.7"/>
<circle cx="303.8" cy="366.3" r="2.7"/>
<circle cx="345.0" cy="371.6" r="2.7"/>
<circle cx="259.6" cy="379.3" r="2.7"/>
<circle cx="373.7" cy="375.5" r="2.7"/>
<circle cx="354.6" cy="391.3" r="2.7"/>
<circle cx="373.7" cy="393.1" r="2.7"/>
<circle cx="250.2" cy="403.8" r="2.7"/>
<circle cx="265.9" cy="408.4" r="2.7"/>
<circle cx="265.9" cy="413.2" r="2.7"/>
<circle cx="275.4" cy="415.4" r="2.7"/>
<circle cx="294.4" cy="416.7" r="2.7"/>
<circle cx="306.9" cy="419.1" r="2.7"/>
<circle cx="300.8" cy="422.4" r="2.7"/>
<circle cx="291.1" cy="424.4" r="2.7"/>
<circle cx="303.8" cy="429.0" r="2.7"/>
<circle cx="265.9" cy="429.6" r="2.7"/>
<circle cx="364.0" cy="445.2" r="2.7"/>
<circle cx="240.5" cy="449.6" r="2.7"/>
<circle cx="382.0" cy="374.9" r="2.7"/>
<circle cx="383.1" cy="345.8" r="2.7"/>
<circle cx="405.2" cy="348.2" r="2.7"/>
<circle cx="421.2" cy="353.4" r="2.7"/>
<circle cx="440.0" cy="379.0" r="2.7"/>
<circle cx="424.3" cy="390.2" r="2.7"/>
<circle cx="500.2" cy="384.7" r="2.7"/>
<circle cx="506.6" cy="385.8" r="2.7"/>
<circle cx="497.2" cy="395.0" r="2.7"/>
<circle cx="484.5" cy="395.5" r="2.7"/>
<circle cx="525.6" cy="378.2" r="2.7"/>
<circle cx="522.6" cy="407.7" r="2.7"/>
<circle cx="532.0" cy="414.5" r="2.7"/>
<circle cx="398.9" cy="437.3" r="2.7"/>
<circle cx="471.8" cy="434.2" r="2.7"/>
<circle cx="437.0" cy="466.0" r="2.7"/>
<circle cx="528.7" cy="459.8" r="2.7"/>
<circle cx="557.4" cy="335.5" r="2.7"/>
<circle cx="544.7" cy="355.4" r="2.7"/>
<circle cx="541.4" cy="392.6" r="2.7"/>
<circle cx="576.4" cy="409.5" r="2.7"/>
<circle cx="554.1" cy="421.3" r="2.7"/>
<circle cx="557.4" cy="425.7" r="2.7"/>
<circle cx="566.8" cy="433.8" r="2.7"/>
</g>
<g clip-path="url(#clipa)">
<path d="M117.0,222.1 L125.9,226.2 L134.8,230.3 L143.7,234.4 L152.6,238.5 L161.5,242.6 L170.5,246.6 L179.4,250.6 L188.3,254.6 L197.2,258.6 L206.1,262.5 L215.0,266.4 L223.9,270.2 L232.8,274.0 L241.7,277.7 L250.6,281.4 L259.5,285.0 L268.4,288.5 L277.4,292.0 L286.3,295.5 L295.2,298.9 L304.1,302.2 L313.0,305.5 L321.9,308.7 L330.8,311.9 L339.7,315.0 L348.6,318.1 L357.5,321.2 L366.4,324.2 L375.3,327.2 L384.3,330.2 L393.2,333.1 L402.1,336.0 L411.0,338.9 L419.9,341.8 L428.8,344.7 L437.7,347.5 L446.6,350.4 L455.5,353.2 L464.4,356.0 L473.3,358.8 L482.2,361.6 L491.2,364.4 L500.1,367.2 L509.0,369.9 L517.9,372.7 L526.8,375.5 L535.7,378.2 L544.6,381.0 L553.5,383.7 L562.4,386.5 L571.3,389.2 L580.2,391.9 L589.1,394.7 L598.1,397.4 L607.0,400.1 L615.9,402.9 L624.8,405.6 L633.7,408.3 L642.6,411.0 L642.6,478.4 L633.7,474.1 L624.8,469.8 L615.9,465.5 L607.0,461.3 L598.1,457.0 L589.1,452.7 L580.2,448.5 L571.3,444.2 L562.4,440.0 L553.5,435.7 L544.6,431.4 L535.7,427.2 L526.8,422.9 L517.9,418.7 L509.0,414.4 L500.1,410.2 L491.2,406.0 L482.2,401.7 L473.3,397.5 L464.4,393.3 L455.5,389.1 L446.6,384.9 L437.7,380.7 L428.8,376.5 L419.9,372.4 L411.0,368.2 L402.1,364.1 L393.2,360.0 L384.3,355.9 L375.3,351.8 L366.4,347.8 L357.5,343.8 L348.6,339.9 L339.7,336.0 L330.8,332.2 L321.9,328.5 L313.0,324.8 L304.1,321.3 L295.2,317.8 L286.3,314.4 L277.4,311.2 L268.4,307.9 L259.5,304.8 L250.6,301.7 L241.7,298.7 L232.8,295.7 L223.9,292.7 L215.0,289.8 L206.1,286.9 L197.2,284.0 L188.3,281.1 L179.4,278.3 L170.5,275.5 L161.5,272.7 L152.6,269.9 L143.7,267.1 L134.8,264.3 L125.9,261.5 L117.0,258.7Z" fill="rgba(89,109,209,0.5)" stroke="none"/>
<path d="M117.0,222.1 L125.9,226.2 L134.8,230.3 L143.7,234.4 L152.6,238.5 L161.5,242.6 L170.5,246.6 L179.4,250.6 L188.3,254.6 L197.2,258.6 L206.1,262.5 L215.0,266.4 L223.9,270.2 L232.8,274.0 L241.7,277.7 L250.6,281.4 L259.5,285.0 L268.4,288.5 L277.4,292.0 L286.3,295.5 L295.2,298.9 L304.1,302.2 L313.0,305.5 L321.9,308.7 L330.8,311.9 L339.7,315.0 L348.6,318.1 L357.5,321.2 L366.4,324.2 L375.3,327.2 L384.3,330.2 L393.2,333.1 L402.1,336.0 L411.0,338.9 L419.9,341.8 L428.8,344.7 L437.7,347.5 L446.6,350.4 L455.5,353.2 L464.4,356.0 L473.3,358.8 L482.2,361.6 L491.2,364.4 L500.1,367.2 L509.0,369.9 L517.9,372.7 L526.8,375.5 L535.7,378.2 L544.6,381.0 L553.5,383.7 L562.4,386.5 L571.3,389.2 L580.2,391.9 L589.1,394.7 L598.1,397.4 L607.0,400.1 L615.9,402.9 L624.8,405.6 L633.7,408.3 L642.6,411.0" fill="none" stroke="#483e3e" stroke-width="1.15" stroke-dasharray="8.6 8.6" stroke-dashoffset="-7.5"/>
<path d="M117.0,258.7 L125.9,261.5 L134.8,264.3 L143.7,267.1 L152.6,269.9 L161.5,272.7 L170.5,275.5 L179.4,278.3 L188.3,281.1 L197.2,284.0 L206.1,286.9 L215.0,289.8 L223.9,292.7 L232.8,295.7 L241.7,298.7 L250.6,301.7 L259.5,304.8 L268.4,307.9 L277.4,311.2 L286.3,314.4 L295.2,317.8 L304.1,321.3 L313.0,324.8 L321.9,328.5 L330.8,332.2 L339.7,336.0 L348.6,339.9 L357.5,343.8 L366.4,347.8 L375.3,351.8 L384.3,355.9 L393.2,360.0 L402.1,364.1 L411.0,368.2 L419.9,372.4 L428.8,376.5 L437.7,380.7 L446.6,384.9 L455.5,389.1 L464.4,393.3 L473.3,397.5 L482.2,401.7 L491.2,406.0 L500.1,410.2 L509.0,414.4 L517.9,418.7 L526.8,422.9 L535.7,427.2 L544.6,431.4 L553.5,435.7 L562.4,440.0 L571.3,444.2 L580.2,448.5 L589.1,452.7 L598.1,457.0 L607.0,461.3 L615.9,465.5 L624.8,469.8 L633.7,474.1 L642.6,478.4" fill="none" stroke="#483e3e" stroke-width="1.15" stroke-dasharray="8.6 8.6"/>
<line x1="117.0" y1="240.8" x2="642.6" y2="447.5" stroke="#7F95D8" stroke-width="2.6" stroke-dasharray="17.5 17.5"/>
<path d="M110.6,150.8 L118.7,154.8 L126.8,158.8 L134.9,162.8 L143.0,166.8 L151.1,170.8 L159.2,174.8 L167.3,178.7 L175.5,182.6 L183.6,186.5 L191.7,190.3 L199.8,194.1 L207.9,197.9 L216.0,201.6 L224.1,205.3 L232.2,208.8 L240.3,212.3 L248.4,215.7 L256.5,219.0 L264.6,222.3 L272.7,225.4 L280.8,228.4 L288.9,231.4 L297.1,234.2 L305.2,237.0 L313.3,239.8 L321.4,242.4 L329.5,245.1 L337.6,247.7 L345.7,250.2 L353.8,252.7 L361.9,255.2 L370.0,257.7 L378.1,260.2 L386.2,262.6 L394.3,265.0 L402.4,267.4 L410.6,269.8 L418.7,272.2 L426.8,274.6 L434.9,277.0 L443.0,279.3 L451.1,281.7 L459.2,284.0 L467.3,286.4 L475.4,288.7 L483.5,291.1 L491.6,293.4 L499.7,295.8 L507.8,298.1 L515.9,300.4 L524.0,302.7 L532.2,305.1 L540.3,307.4 L548.4,309.7 L556.5,312.0 L564.6,314.4 L572.7,316.7 L580.8,319.0 L588.9,321.3 L588.9,388.3 L580.8,384.3 L572.7,380.4 L564.6,376.4 L556.5,372.5 L548.4,368.5 L540.3,364.6 L532.2,360.7 L524.0,356.7 L515.9,352.8 L507.8,348.9 L499.7,345.0 L491.6,341.0 L483.5,337.1 L475.4,333.2 L467.3,329.3 L459.2,325.4 L451.1,321.5 L443.0,317.6 L434.9,313.7 L426.8,309.9 L418.7,306.0 L410.6,302.2 L402.4,298.3 L394.3,294.5 L386.2,290.7 L378.1,286.9 L370.0,283.2 L361.9,279.5 L353.8,275.8 L345.7,272.1 L337.6,268.5 L329.5,265.0 L321.4,261.5 L313.3,258.1 L305.2,254.8 L297.1,251.5 L288.9,248.3 L280.8,245.2 L272.7,242.2 L264.6,239.2 L256.5,236.3 L248.4,233.5 L240.3,230.7 L232.2,227.9 L224.1,225.2 L216.0,222.5 L207.9,219.9 L199.8,217.2 L191.7,214.6 L183.6,212.0 L175.5,209.4 L167.3,206.9 L159.2,204.3 L151.1,201.7 L143.0,199.2 L134.9,196.7 L126.8,194.1 L118.7,191.6 L110.6,189.1Z" fill="rgba(219,89,89,0.5)" stroke="none"/>
<path d="M110.6,150.8 L118.7,154.8 L126.8,158.8 L134.9,162.8 L143.0,166.8 L151.1,170.8 L159.2,174.8 L167.3,178.7 L175.5,182.6 L183.6,186.5 L191.7,190.3 L199.8,194.1 L207.9,197.9 L216.0,201.6 L224.1,205.3 L232.2,208.8 L240.3,212.3 L248.4,215.7 L256.5,219.0 L264.6,222.3 L272.7,225.4 L280.8,228.4 L288.9,231.4 L297.1,234.2 L305.2,237.0 L313.3,239.8 L321.4,242.4 L329.5,245.1 L337.6,247.7 L345.7,250.2 L353.8,252.7 L361.9,255.2 L370.0,257.7 L378.1,260.2 L386.2,262.6 L394.3,265.0 L402.4,267.4 L410.6,269.8 L418.7,272.2 L426.8,274.6 L434.9,277.0 L443.0,279.3 L451.1,281.7 L459.2,284.0 L467.3,286.4 L475.4,288.7 L483.5,291.1 L491.6,293.4 L499.7,295.8 L507.8,298.1 L515.9,300.4 L524.0,302.7 L532.2,305.1 L540.3,307.4 L548.4,309.7 L556.5,312.0 L564.6,314.4 L572.7,316.7 L580.8,319.0 L588.9,321.3" fill="none" stroke="#483e3e" stroke-width="1.15"/>
<path d="M110.6,189.1 L118.7,191.6 L126.8,194.1 L134.9,196.7 L143.0,199.2 L151.1,201.7 L159.2,204.3 L167.3,206.9 L175.5,209.4 L183.6,212.0 L191.7,214.6 L199.8,217.2 L207.9,219.9 L216.0,222.5 L224.1,225.2 L232.2,227.9 L240.3,230.7 L248.4,233.5 L256.5,236.3 L264.6,239.2 L272.7,242.2 L280.8,245.2 L288.9,248.3 L297.1,251.5 L305.2,254.8 L313.3,258.1 L321.4,261.5 L329.5,265.0 L337.6,268.5 L345.7,272.1 L353.8,275.8 L361.9,279.5 L370.0,283.2 L378.1,286.9 L386.2,290.7 L394.3,294.5 L402.4,298.3 L410.6,302.2 L418.7,306.0 L426.8,309.9 L434.9,313.7 L443.0,317.6 L451.1,321.5 L459.2,325.4 L467.3,329.3 L475.4,333.2 L483.5,337.1 L491.6,341.0 L499.7,345.0 L507.8,348.9 L515.9,352.8 L524.0,356.7 L532.2,360.7 L540.3,364.6 L548.4,368.5 L556.5,372.5 L564.6,376.4 L572.7,380.4 L580.8,384.3 L588.9,388.3" fill="none" stroke="#483e3e" stroke-width="1.15"/>
<line x1="110.6" y1="170.2" x2="588.9" y2="359.9" stroke="#E3767D" stroke-width="2.6"/>
</g>
<rect x="82.0" y="0.45" width="602.1" height="492.85" fill="none" stroke="#262626" stroke-width="1.5"/>
<line x1="74.4" y1="471.35" x2="82.0" y2="471.35" stroke="#262626" stroke-width="1.4"/>
<text x="70.7" y="476.65" font-size="17.4" text-anchor="end">0.0</text>
<line x1="78.1" y1="426.44" x2="82.0" y2="426.44" stroke="#262626" stroke-width="1.4"/>
<line x1="74.4" y1="381.52" x2="82.0" y2="381.52" stroke="#262626" stroke-width="1.4"/>
<text x="70.7" y="386.82" font-size="17.4" text-anchor="end">0.2</text>
<line x1="78.1" y1="336.61" x2="82.0" y2="336.61" stroke="#262626" stroke-width="1.4"/>
<line x1="74.4" y1="291.69" x2="82.0" y2="291.69" stroke="#262626" stroke-width="1.4"/>
<text x="70.7" y="296.99" font-size="17.4" text-anchor="end">0.4</text>
<line x1="78.1" y1="246.78" x2="82.0" y2="246.78" stroke="#262626" stroke-width="1.4"/>
<line x1="74.4" y1="201.86" x2="82.0" y2="201.86" stroke="#262626" stroke-width="1.4"/>
<text x="70.7" y="207.16" font-size="17.4" text-anchor="end">0.6</text>
<line x1="78.1" y1="156.94" x2="82.0" y2="156.94" stroke="#262626" stroke-width="1.4"/>
<line x1="74.4" y1="112.03" x2="82.0" y2="112.03" stroke="#262626" stroke-width="1.4"/>
<text x="70.7" y="117.33" font-size="17.4" text-anchor="end">0.8</text>
<line x1="78.1" y1="67.12" x2="82.0" y2="67.12" stroke="#262626" stroke-width="1.4"/>
<line x1="74.4" y1="22.20" x2="82.0" y2="22.20" stroke="#262626" stroke-width="1.4"/>
<text x="70.7" y="27.50" font-size="17.4" text-anchor="end">1.0</text>
<line x1="82.00" y1="493.3" x2="82.00" y2="500.8" stroke="#262626" stroke-width="1.4"/>
<text x="84.50" y="516.50" font-size="17.4" text-anchor="middle">0</text>
<line x1="120.05" y1="493.3" x2="120.05" y2="497.3" stroke="#262626" stroke-width="1.4"/>
<line x1="158.10" y1="493.3" x2="158.10" y2="500.8" stroke="#262626" stroke-width="1.4"/>
<text x="160.60" y="516.50" font-size="17.4" text-anchor="middle">120</text>
<line x1="196.15" y1="493.3" x2="196.15" y2="497.3" stroke="#262626" stroke-width="1.4"/>
<line x1="234.20" y1="493.3" x2="234.20" y2="500.8" stroke="#262626" stroke-width="1.4"/>
<text x="236.70" y="516.50" font-size="17.4" text-anchor="middle">240</text>
<line x1="272.25" y1="493.3" x2="272.25" y2="497.3" stroke="#262626" stroke-width="1.4"/>
<line x1="310.30" y1="493.3" x2="310.30" y2="500.8" stroke="#262626" stroke-width="1.4"/>
<text x="312.80" y="516.50" font-size="17.4" text-anchor="middle">360</text>
<line x1="348.35" y1="493.3" x2="348.35" y2="497.3" stroke="#262626" stroke-width="1.4"/>
<line x1="386.40" y1="493.3" x2="386.40" y2="500.8" stroke="#262626" stroke-width="1.4"/>
<text x="388.90" y="516.50" font-size="17.4" text-anchor="middle">480</text>
<line x1="424.45" y1="493.3" x2="424.45" y2="497.3" stroke="#262626" stroke-width="1.4"/>
<line x1="462.50" y1="493.3" x2="462.50" y2="500.8" stroke="#262626" stroke-width="1.4"/>
<text x="465.00" y="516.50" font-size="17.4" text-anchor="middle">600</text>
<line x1="500.55" y1="493.3" x2="500.55" y2="497.3" stroke="#262626" stroke-width="1.4"/>
<line x1="538.60" y1="493.3" x2="538.60" y2="500.8" stroke="#262626" stroke-width="1.4"/>
<text x="541.10" y="516.50" font-size="17.4" text-anchor="middle">720</text>
<line x1="576.65" y1="493.3" x2="576.65" y2="497.3" stroke="#262626" stroke-width="1.4"/>
<line x1="614.70" y1="493.3" x2="614.70" y2="500.8" stroke="#262626" stroke-width="1.4"/>
<text x="617.20" y="516.50" font-size="17.4" text-anchor="middle">840</text>
<line x1="652.75" y1="493.3" x2="652.75" y2="497.3" stroke="#262626" stroke-width="1.4"/>
<text x="-1.2" y="27.2" font-size="32.2">(a)</text>
<text transform="translate(25.2,449.9) rotate(-90)" font-size="26.3">Probability of favorable outcome</text>
<text x="163.7" y="546.5" font-size="26.4">Onset-to-reperfusion time (minutes)</text>
<rect x="348.0" y="22.20" width="195.4" height="79.9" fill="#fff" stroke="#262626" stroke-width="1.5"/>
<circle cx="370.9" cy="47.0" r="5.05" fill="#E03A4B"/>
<rect x="366.6" y="73.3" width="8.6" height="8.6" fill="#fff" stroke="#A8B0E8" stroke-width="1.7"/>
<line x1="399.9" y1="47.0" x2="448.0" y2="47.0" stroke="#C63E55" stroke-width="2.7"/>
<line x1="399.9" y1="77.5" x2="448.0" y2="77.5" stroke="#3E66B4" stroke-width="2.5" stroke-dasharray="8.8 8.6"/>
<text x="454.8" y="51.8" font-size="19.5">mTICI-3</text>
<text x="454.8" y="82.3" font-size="19.5">mTICI-2</text>
</g>
<g id="panel-b">
<clipPath id="clipb"><rect x="82.0" y="601.2" width="602.1" height="491.89999999999986"/></clipPath>
<g>
<g fill="none" stroke="#4068B2" stroke-width="1.35">
<rect x="148.1" y="680.0" width="4.5" height="4.5"/>
<rect x="204.3" y="678.2" width="4.5" height="4.5"/>
<rect x="227.6" y="670.5" width="4.5" height="4.5"/>
<rect x="224.2" y="688.5" width="4.5" height="4.5"/>
<rect x="196.2" y="693.5" width="4.5" height="4.5"/>
<rect x="204.3" y="695.0" width="4.5" height="4.5"/>
<rect x="180.2" y="704.5" width="4.5" height="4.5"/>
<rect x="155.9" y="709.4" width="4.5" height="4.5"/>
<rect x="227.6" y="715.6" width="4.5" height="4.5"/>
<rect x="220.3" y="719.4" width="4.5" height="4.5"/>
<rect x="192.2" y="724.9" width="4.5" height="4.5"/>
<rect x="160.3" y="726.5" width="4.5" height="4.5"/>
<rect x="148.1" y="734.8" width="4.5" height="4.5"/>
<rect x="152.1" y="734.0" width="4.5" height="4.5"/>
<rect x="148.1" y="739.5" width="4.5" height="4.5"/>
<rect x="184.2" y="737.1" width="4.5" height="4.5"/>
<rect x="204.3" y="736.6" width="4.5" height="4.5"/>
<rect x="200.2" y="741.5" width="4.5" height="4.5"/>
<rect x="196.2" y="747.9" width="4.5" height="4.5"/>
<rect x="188.3" y="750.8" width="4.5" height="4.5"/>
<rect x="160.3" y="748.8" width="4.5" height="4.5"/>
<rect x="155.9" y="752.6" width="4.5" height="4.5"/>
<rect x="127.9" y="750.8" width="4.5" height="4.5"/>
<rect x="168.4" y="760.8" width="4.5" height="4.5"/>
<rect x="184.2" y="760.0" width="4.5" height="4.5"/>
<rect x="220.3" y="755.5" width="4.5" height="4.5"/>
<rect x="216.2" y="761.9" width="4.5" height="4.5"/>
<rect x="196.2" y="763.9" width="4.5" height="4.5"/>
<rect x="276.4" y="648.9" width="4.5" height="4.5"/>
<rect x="248.3" y="707.5" width="4.5" height="4.5"/>
<rect x="340.8" y="704.2" width="4.5" height="4.5"/>
<rect x="308.6" y="714.0" width="4.5" height="4.5"/>
<rect x="236.3" y="724.6" width="4.5" height="4.5"/>
<rect x="276.4" y="724.9" width="4.5" height="4.5"/>
<rect x="344.8" y="724.9" width="4.5" height="4.5"/>
<rect x="252.6" y="736.2" width="4.5" height="4.5"/>
<rect x="272.4" y="741.5" width="4.5" height="4.5"/>
<rect x="272.4" y="744.0" width="4.5" height="4.5"/>
<rect x="304.6" y="755.5" width="4.5" height="4.5"/>
<rect x="284.4" y="760.4" width="4.5" height="4.5"/>
<rect x="424.9" y="731.6" width="4.5" height="4.5"/>
<rect x="597.6" y="747.2" width="4.5" height="4.5"/>
<rect x="108.0" y="767.6" width="4.5" height="4.5"/>
<rect x="148.1" y="767.0" width="4.5" height="4.5"/>
<rect x="180.2" y="767.6" width="4.5" height="4.5"/>
<rect x="208.2" y="766.0" width="4.5" height="4.5"/>
<rect x="216.2" y="767.0" width="4.5" height="4.5"/>
<rect x="160.3" y="774.6" width="4.5" height="4.5"/>
<rect x="176.3" y="778.2" width="4.5" height="4.5"/>
<rect x="208.2" y="774.6" width="4.5" height="4.5"/>
<rect x="224.2" y="775.8" width="4.5" height="4.5"/>
<rect x="212.2" y="783.9" width="4.5" height="4.5"/>
<rect x="208.2" y="789.5" width="4.5" height="4.5"/>
<rect x="143.9" y="783.0" width="4.5" height="4.5"/>
<rect x="127.9" y="786.4" width="4.5" height="4.5"/>
<rect x="139.9" y="790.6" width="4.5" height="4.5"/>
<rect x="152.1" y="790.6" width="4.5" height="4.5"/>
<rect x="104.0" y="797.0" width="4.5" height="4.5"/>
<rect x="160.3" y="801.0" width="4.5" height="4.5"/>
<rect x="172.3" y="801.9" width="4.5" height="4.5"/>
<rect x="192.2" y="797.6" width="4.5" height="4.5"/>
<rect x="220.3" y="797.6" width="4.5" height="4.5"/>
<rect x="224.2" y="799.5" width="4.5" height="4.5"/>
<rect x="212.2" y="813.6" width="4.5" height="4.5"/>
<rect x="216.2" y="819.5" width="4.5" height="4.5"/>
<rect x="216.2" y="824.0" width="4.5" height="4.5"/>
<rect x="192.2" y="820.6" width="4.5" height="4.5"/>
<rect x="127.9" y="834.0" width="4.5" height="4.5"/>
<rect x="164.2" y="833.4" width="4.5" height="4.5"/>
<rect x="168.4" y="836.6" width="4.5" height="4.5"/>
<rect x="148.1" y="839.2" width="4.5" height="4.5"/>
<rect x="160.3" y="841.2" width="4.5" height="4.5"/>
<rect x="168.4" y="842.1" width="4.5" height="4.5"/>
<rect x="188.3" y="838.9" width="4.5" height="4.5"/>
<rect x="216.2" y="833.4" width="4.5" height="4.5"/>
<rect x="96.2" y="842.5" width="4.5" height="4.5"/>
<rect x="124.0" y="844.1" width="4.5" height="4.5"/>
<rect x="180.2" y="844.1" width="4.5" height="4.5"/>
<rect x="192.2" y="845.9" width="4.5" height="4.5"/>
<rect x="216.2" y="845.2" width="4.5" height="4.5"/>
<rect x="160.3" y="849.9" width="4.5" height="4.5"/>
<rect x="164.2" y="852.5" width="4.5" height="4.5"/>
<rect x="168.4" y="856.9" width="4.5" height="4.5"/>
<rect x="176.3" y="855.8" width="4.5" height="4.5"/>
<rect x="196.2" y="855.0" width="4.5" height="4.5"/>
<rect x="204.3" y="856.9" width="4.5" height="4.5"/>
<rect x="204.3" y="860.0" width="4.5" height="4.5"/>
<rect x="168.4" y="863.4" width="4.5" height="4.5"/>
<rect x="172.3" y="870.0" width="4.5" height="4.5"/>
<rect x="172.3" y="875.5" width="4.5" height="4.5"/>
<rect x="172.3" y="879.8" width="4.5" height="4.5"/>
<rect x="148.1" y="872.8" width="4.5" height="4.5"/>
<rect x="160.3" y="878.0" width="4.5" height="4.5"/>
<rect x="192.2" y="880.9" width="4.5" height="4.5"/>
<rect x="188.3" y="887.5" width="4.5" height="4.5"/>
<rect x="192.2" y="890.0" width="4.5" height="4.5"/>
<rect x="196.2" y="892.5" width="4.5" height="4.5"/>
<rect x="204.3" y="888.5" width="4.5" height="4.5"/>
<rect x="216.2" y="890.8" width="4.5" height="4.5"/>
<rect x="143.9" y="889.0" width="4.5" height="4.5"/>
<rect x="155.9" y="889.6" width="4.5" height="4.5"/>
<rect x="176.3" y="896.0" width="4.5" height="4.5"/>
<rect x="164.2" y="909.8" width="4.5" height="4.5"/>
<rect x="176.3" y="909.8" width="4.5" height="4.5"/>
<rect x="127.9" y="913.8" width="4.5" height="4.5"/>
<rect x="228.7" y="914.1" width="4.5" height="4.5"/>
<rect x="192.2" y="921.9" width="4.5" height="4.5"/>
<rect x="124.0" y="926.9" width="4.5" height="4.5"/>
<rect x="143.9" y="926.9" width="4.5" height="4.5"/>
<rect x="160.3" y="928.5" width="4.5" height="4.5"/>
<rect x="212.2" y="925.8" width="4.5" height="4.5"/>
<rect x="188.3" y="928.9" width="4.5" height="4.5"/>
<rect x="240.4" y="772.5" width="4.5" height="4.5"/>
<rect x="232.3" y="778.0" width="4.5" height="4.5"/>
<rect x="240.4" y="783.0" width="4.5" height="4.5"/>
<rect x="316.6" y="768.1" width="4.5" height="4.5"/>
<rect x="316.6" y="770.4" width="4.5" height="4.5"/>
<rect x="244.4" y="797.2" width="4.5" height="4.5"/>
<rect x="328.8" y="797.6" width="4.5" height="4.5"/>
<rect x="264.6" y="815.2" width="4.5" height="4.5"/>
<rect x="280.6" y="815.9" width="4.5" height="4.5"/>
<rect x="284.4" y="812.4" width="4.5" height="4.5"/>
<rect x="252.6" y="818.0" width="4.5" height="4.5"/>
<rect x="244.4" y="830.0" width="4.5" height="4.5"/>
<rect x="248.3" y="829.5" width="4.5" height="4.5"/>
<rect x="276.4" y="834.2" width="4.5" height="4.5"/>
<rect x="328.8" y="833.1" width="4.5" height="4.5"/>
<rect x="368.8" y="828.4" width="4.5" height="4.5"/>
<rect x="379.8" y="810.1" width="4.5" height="4.5"/>
<rect x="316.6" y="840.9" width="4.5" height="4.5"/>
<rect x="312.6" y="847.4" width="4.5" height="4.5"/>
<rect x="300.4" y="850.2" width="4.5" height="4.5"/>
<rect x="236.3" y="852.5" width="4.5" height="4.5"/>
<rect x="232.3" y="859.6" width="4.5" height="4.5"/>
<rect x="292.6" y="857.5" width="4.5" height="4.5"/>
<rect x="292.6" y="859.6" width="4.5" height="4.5"/>
<rect x="292.6" y="862.2" width="4.5" height="4.5"/>
<rect x="312.6" y="868.5" width="4.5" height="4.5"/>
<rect x="264.6" y="870.4" width="4.5" height="4.5"/>
<rect x="284.4" y="871.5" width="4.5" height="4.5"/>
<rect x="372.8" y="876.8" width="4.5" height="4.5"/>
<rect x="336.6" y="885.2" width="4.5" height="4.5"/>
<rect x="272.4" y="886.4" width="4.5" height="4.5"/>
<rect x="268.6" y="889.6" width="4.5" height="4.5"/>
<rect x="232.3" y="891.1" width="4.5" height="4.5"/>
<rect x="244.4" y="911.5" width="4.5" height="4.5"/>
<rect x="256.4" y="914.1" width="4.5" height="4.5"/>
<rect x="268.6" y="917.6" width="4.5" height="4.5"/>
<rect x="232.3" y="914.9" width="4.5" height="4.5"/>
<rect x="288.4" y="912.2" width="4.5" height="4.5"/>
<rect x="304.6" y="912.6" width="4.5" height="4.5"/>
<rect x="320.6" y="925.4" width="4.5" height="4.5"/>
<rect x="344.8" y="922.0" width="4.5" height="4.5"/>
<rect x="348.6" y="924.0" width="4.5" height="4.5"/>
<rect x="252.6" y="926.9" width="4.5" height="4.5"/>
<rect x="505.4" y="766.5" width="4.5" height="4.5"/>
<rect x="413.1" y="790.2" width="4.5" height="4.5"/>
<rect x="432.9" y="792.2" width="4.5" height="4.5"/>
<rect x="481.1" y="828.4" width="4.5" height="4.5"/>
<rect x="481.1" y="863.0" width="4.5" height="4.5"/>
<rect x="461.2" y="885.2" width="4.5" height="4.5"/>
<rect x="385.1" y="895.1" width="4.5" height="4.5"/>
<rect x="429.1" y="907.9" width="4.5" height="4.5"/>
<rect x="392.9" y="920.8" width="4.5" height="4.5"/>
<rect x="473.2" y="919.2" width="4.5" height="4.5"/>
<rect x="473.2" y="927.5" width="4.5" height="4.5"/>
<rect x="617.5" y="776.9" width="4.5" height="4.5"/>
<rect x="561.5" y="894.5" width="4.5" height="4.5"/>
<rect x="164.2" y="936.0" width="4.5" height="4.5"/>
<rect x="192.2" y="932.0" width="4.5" height="4.5"/>
<rect x="196.2" y="936.5" width="4.5" height="4.5"/>
<rect x="200.2" y="938.0" width="4.5" height="4.5"/>
<rect x="192.2" y="941.2" width="4.5" height="4.5"/>
<rect x="212.2" y="942.4" width="4.5" height="4.5"/>
<rect x="160.3" y="945.4" width="4.5" height="4.5"/>
<rect x="164.2" y="945.4" width="4.5" height="4.5"/>
<rect x="168.4" y="952.9" width="4.5" height="4.5"/>
<rect x="184.2" y="954.1" width="4.5" height="4.5"/>
<rect x="200.2" y="959.0" width="4.5" height="4.5"/>
<rect x="196.2" y="963.4" width="4.5" height="4.5"/>
<rect x="212.2" y="961.5" width="4.5" height="4.5"/>
<rect x="220.3" y="961.5" width="4.5" height="4.5"/>
<rect x="155.9" y="963.4" width="4.5" height="4.5"/>
<rect x="160.3" y="963.4" width="4.5" height="4.5"/>
<rect x="172.3" y="962.2" width="4.5" height="4.5"/>
<rect x="108.0" y="969.6" width="4.5" height="4.5"/>
<rect x="124.0" y="973.1" width="4.5" height="4.5"/>
<rect x="124.0" y="975.1" width="4.5" height="4.5"/>
<rect x="124.0" y="977.0" width="4.5" height="4.5"/>
<rect x="184.2" y="970.4" width="4.5" height="4.5"/>
<rect x="192.2" y="971.0" width="4.5" height="4.5"/>
<rect x="180.2" y="978.0" width="4.5" height="4.5"/>
<rect x="188.3" y="977.4" width="4.5" height="4.5"/>
<rect x="192.2" y="978.0" width="4.5" height="4.5"/>
<rect x="216.2" y="971.5" width="4.5" height="4.5"/>
<rect x="220.3" y="970.0" width="4.5" height="4.5"/>
<rect x="224.2" y="970.0" width="4.5" height="4.5"/>
<rect x="184.2" y="987.9" width="4.5" height="4.5"/>
<rect x="188.3" y="990.0" width="4.5" height="4.5"/>
<rect x="216.2" y="987.9" width="4.5" height="4.5"/>
<rect x="160.3" y="989.6" width="4.5" height="4.5"/>
<rect x="164.2" y="990.0" width="4.5" height="4.5"/>
<rect x="164.2" y="998.4" width="4.5" height="4.5"/>
<rect x="172.3" y="997.0" width="4.5" height="4.5"/>
<rect x="172.3" y="1004.8" width="4.5" height="4.5"/>
<rect x="196.2" y="999.5" width="4.5" height="4.5"/>
<rect x="204.3" y="1003.1" width="4.5" height="4.5"/>
<rect x="216.2" y="997.8" width="4.5" height="4.5"/>
<rect x="184.2" y="1008.6" width="4.5" height="4.5"/>
<rect x="180.2" y="1010.9" width="4.5" height="4.5"/>
<rect x="228.7" y="1008.6" width="4.5" height="4.5"/>
<rect x="228.7" y="1012.4" width="4.5" height="4.5"/>
<rect x="184.2" y="1019.1" width="4.5" height="4.5"/>
<rect x="176.3" y="1024.5" width="4.5" height="4.5"/>
<rect x="143.9" y="1023.0" width="4.5" height="4.5"/>
<rect x="212.2" y="1023.0" width="4.5" height="4.5"/>
<rect x="216.2" y="1022.2" width="4.5" height="4.5"/>
<rect x="208.2" y="1026.8" width="4.5" height="4.5"/>
<rect x="220.3" y="1029.5" width="4.5" height="4.5"/>
<rect x="192.2" y="1048.0" width="4.5" height="4.5"/>
<rect x="208.2" y="1046.3" width="4.5" height="4.5"/>
<rect x="216.2" y="1054.8" width="4.5" height="4.5"/>
<rect x="220.3" y="1056.5" width="4.5" height="4.5"/>
<rect x="224.2" y="1060.3" width="4.5" height="4.5"/>
<rect x="229.8" y="939.6" width="4.5" height="4.5"/>
<rect x="272.4" y="931.5" width="4.5" height="4.5"/>
<rect x="304.6" y="932.0" width="4.5" height="4.5"/>
<rect x="244.4" y="943.6" width="4.5" height="4.5"/>
<rect x="296.6" y="943.6" width="4.5" height="4.5"/>
<rect x="372.8" y="938.6" width="4.5" height="4.5"/>
<rect x="244.4" y="956.5" width="4.5" height="4.5"/>
<rect x="268.6" y="957.5" width="4.5" height="4.5"/>
<rect x="276.4" y="957.9" width="4.5" height="4.5"/>
<rect x="304.6" y="954.5" width="4.5" height="4.5"/>
<rect x="240.4" y="966.0" width="4.5" height="4.5"/>
<rect x="248.3" y="966.6" width="4.5" height="4.5"/>
<rect x="296.6" y="969.6" width="4.5" height="4.5"/>
<rect x="300.4" y="974.8" width="4.5" height="4.5"/>
<rect x="296.6" y="976.2" width="4.5" height="4.5"/>
<rect x="304.6" y="981.4" width="4.5" height="4.5"/>
<rect x="248.3" y="981.4" width="4.5" height="4.5"/>
<rect x="252.6" y="979.8" width="4.5" height="4.5"/>
<rect x="280.6" y="984.1" width="4.5" height="4.5"/>
<rect x="348.6" y="968.6" width="4.5" height="4.5"/>
<rect x="364.9" y="971.5" width="4.5" height="4.5"/>
<rect x="368.8" y="979.1" width="4.5" height="4.5"/>
<rect x="368.8" y="983.5" width="4.5" height="4.5"/>
<rect x="348.6" y="985.6" width="4.5" height="4.5"/>
<rect x="356.8" y="987.9" width="4.5" height="4.5"/>
<rect x="328.8" y="990.0" width="4.5" height="4.5"/>
<rect x="332.6" y="992.2" width="4.5" height="4.5"/>
<rect x="348.6" y="991.1" width="4.5" height="4.5"/>
<rect x="348.6" y="993.0" width="4.5" height="4.5"/>
<rect x="368.8" y="1000.0" width="4.5" height="4.5"/>
<rect x="316.6" y="1004.2" width="4.5" height="4.5"/>
<rect x="320.6" y="1014.4" width="4.5" height="4.5"/>
<rect x="260.4" y="1012.4" width="4.5" height="4.5"/>
<rect x="264.6" y="1013.0" width="4.5" height="4.5"/>
<rect x="268.6" y="1010.9" width="4.5" height="4.5"/>
<rect x="280.6" y="1014.1" width="4.5" height="4.5"/>
<rect x="272.4" y="1017.5" width="4.5" height="4.5"/>
<rect x="264.6" y="1021.4" width="4.5" height="4.5"/>
<rect x="236.3" y="1019.6" width="4.5" height="4.5"/>
<rect x="244.4" y="1019.6" width="4.5" height="4.5"/>
<rect x="256.4" y="1028.0" width="4.5" height="4.5"/>
<rect x="236.3" y="1035.0" width="4.5" height="4.5"/>
<rect x="268.6" y="1033.8" width="4.5" height="4.5"/>
<rect x="276.4" y="1042.0" width="4.5" height="4.5"/>
<rect x="272.4" y="1052.7" width="4.5" height="4.5"/>
<rect x="252.6" y="1054.7" width="4.5" height="4.5"/>
<rect x="240.4" y="1060.2" width="4.5" height="4.5"/>
<rect x="356.8" y="1016.8" width="4.5" height="4.5"/>
<rect x="360.6" y="1018.5" width="4.5" height="4.5"/>
<rect x="368.8" y="1024.5" width="4.5" height="4.5"/>
<rect x="457.1" y="933.1" width="4.5" height="4.5"/>
<rect x="441.1" y="947.0" width="4.5" height="4.5"/>
<rect x="497.4" y="951.0" width="4.5" height="4.5"/>
<rect x="525.4" y="964.5" width="4.5" height="4.5"/>
<rect x="400.9" y="969.2" width="4.5" height="4.5"/>
<rect x="409.1" y="979.1" width="4.5" height="4.5"/>
<rect x="493.1" y="983.0" width="4.5" height="4.5"/>
<rect x="485.2" y="991.5" width="4.5" height="4.5"/>
<rect x="385.1" y="997.0" width="4.5" height="4.5"/>
<rect x="425.1" y="1001.2" width="4.5" height="4.5"/>
<rect x="445.1" y="1001.6" width="4.5" height="4.5"/>
<rect x="441.1" y="1006.5" width="4.5" height="4.5"/>
<rect x="432.9" y="1010.9" width="4.5" height="4.5"/>
<rect x="392.9" y="1014.9" width="4.5" height="4.5"/>
<rect x="425.1" y="1017.5" width="4.5" height="4.5"/>
<rect x="425.1" y="1021.1" width="4.5" height="4.5"/>
<rect x="441.1" y="1016.4" width="4.5" height="4.5"/>
<rect x="445.1" y="1018.5" width="4.5" height="4.5"/>
<rect x="481.1" y="1013.2" width="4.5" height="4.5"/>
<rect x="517.2" y="1018.5" width="4.5" height="4.5"/>
<rect x="489.2" y="1026.7" width="4.5" height="4.5"/>
<rect x="513.4" y="1030.8" width="4.5" height="4.5"/>
<rect x="441.1" y="1031.8" width="4.5" height="4.5"/>
<rect x="453.1" y="1035.3" width="4.5" height="4.5"/>
<rect x="449.1" y="1050.0" width="4.5" height="4.5"/>
<rect x="432.9" y="1053.8" width="4.5" height="4.5"/>
<rect x="481.1" y="1050.8" width="4.5" height="4.5"/>
<rect x="589.5" y="945.6" width="4.5" height="4.5"/>
<rect x="657.9" y="952.4" width="4.5" height="4.5"/>
<rect x="541.5" y="981.8" width="4.5" height="4.5"/>
<rect x="617.5" y="980.9" width="4.5" height="4.5"/>
<rect x="541.5" y="996.6" width="4.5" height="4.5"/>
<rect x="585.5" y="996.0" width="4.5" height="4.5"/>
<rect x="577.5" y="1011.5" width="4.5" height="4.5"/>
<rect x="569.6" y="1020.8" width="4.5" height="4.5"/>
<rect x="541.5" y="1024.2" width="4.5" height="4.5"/>
<rect x="625.6" y="1028.2" width="4.5" height="4.5"/>
<rect x="589.5" y="1030.5" width="4.5" height="4.5"/>
<rect x="641.6" y="1034.2" width="4.5" height="4.5"/>
<rect x="601.5" y="1035.7" width="4.5" height="4.5"/>
<rect x="605.8" y="1038.8" width="4.5" height="4.5"/>
<rect x="597.6" y="1044.0" width="4.5" height="4.5"/>
<rect x="629.5" y="1048.8" width="4.5" height="4.5"/>
<rect x="641.6" y="1050.2" width="4.5" height="4.5"/>
<rect x="569.6" y="1051.3" width="4.5" height="4.5"/>
</g>
<g fill="#E0384B">
<circle cx="166.5" cy="626.8" r="2.7"/>
<circle cx="166.5" cy="632.3" r="2.7"/>
<circle cx="170.7" cy="635.6" r="2.7"/>
<circle cx="174.0" cy="634.9" r="2.7"/>
<circle cx="178.6" cy="640.4" r="2.7"/>
<circle cx="186.4" cy="640.4" r="2.7"/>
<circle cx="194.5" cy="638.9" r="2.7"/>
<circle cx="202.4" cy="646.5" r="2.7"/>
<circle cx="218.4" cy="645.0" r="2.7"/>
<circle cx="138.9" cy="653.8" r="2.7"/>
<circle cx="142.2" cy="653.8" r="2.7"/>
<circle cx="146.2" cy="656.4" r="2.7"/>
<circle cx="178.6" cy="651.1" r="2.7"/>
<circle cx="170.7" cy="654.6" r="2.7"/>
<circle cx="210.5" cy="657.7" r="2.7"/>
<circle cx="190.6" cy="659.2" r="2.7"/>
<circle cx="190.6" cy="660.8" r="2.7"/>
<circle cx="174.6" cy="660.8" r="2.7"/>
<circle cx="166.5" cy="663.4" r="2.7"/>
<circle cx="226.5" cy="667.8" r="2.7"/>
<circle cx="146.2" cy="672.6" r="2.7"/>
<circle cx="158.6" cy="670.6" r="2.7"/>
<circle cx="162.6" cy="671.1" r="2.7"/>
<circle cx="166.5" cy="670.0" r="2.7"/>
<circle cx="170.7" cy="673.3" r="2.7"/>
<circle cx="182.5" cy="668.9" r="2.7"/>
<circle cx="182.5" cy="675.0" r="2.7"/>
<circle cx="178.6" cy="679.8" r="2.7"/>
<circle cx="126.2" cy="684.6" r="2.7"/>
<circle cx="150.3" cy="691.2" r="2.7"/>
<circle cx="162.6" cy="688.4" r="2.7"/>
<circle cx="166.5" cy="692.3" r="2.7"/>
<circle cx="186.4" cy="689.5" r="2.7"/>
<circle cx="230.9" cy="689.0" r="2.7"/>
<circle cx="170.7" cy="697.6" r="2.7"/>
<circle cx="170.7" cy="702.4" r="2.7"/>
<circle cx="174.6" cy="701.7" r="2.7"/>
<circle cx="166.5" cy="707.9" r="2.7"/>
<circle cx="194.5" cy="704.8" r="2.7"/>
<circle cx="154.7" cy="717.9" r="2.7"/>
<circle cx="154.7" cy="724.1" r="2.7"/>
<circle cx="166.5" cy="725.2" r="2.7"/>
<circle cx="174.6" cy="720.6" r="2.7"/>
<circle cx="178.6" cy="719.2" r="2.7"/>
<circle cx="182.5" cy="717.5" r="2.7"/>
<circle cx="178.6" cy="723.6" r="2.7"/>
<circle cx="182.5" cy="726.2" r="2.7"/>
<circle cx="206.6" cy="713.8" r="2.7"/>
<circle cx="206.6" cy="717.5" r="2.7"/>
<circle cx="210.5" cy="720.6" r="2.7"/>
<circle cx="218.4" cy="720.1" r="2.7"/>
<circle cx="214.5" cy="726.7" r="2.7"/>
<circle cx="102.4" cy="734.1" r="2.7"/>
<circle cx="174.6" cy="734.6" r="2.7"/>
<circle cx="222.6" cy="732.4" r="2.7"/>
<circle cx="166.5" cy="739.4" r="2.7"/>
<circle cx="110.2" cy="745.7" r="2.7"/>
<circle cx="130.2" cy="748.6" r="2.7"/>
<circle cx="158.6" cy="746.2" r="2.7"/>
<circle cx="166.5" cy="745.7" r="2.7"/>
<circle cx="174.6" cy="745.3" r="2.7"/>
<circle cx="190.6" cy="744.9" r="2.7"/>
<circle cx="194.5" cy="746.6" r="2.7"/>
<circle cx="210.5" cy="747.7" r="2.7"/>
<circle cx="226.5" cy="745.7" r="2.7"/>
<circle cx="230.9" cy="742.2" r="2.7"/>
<circle cx="150.3" cy="751.0" r="2.7"/>
<circle cx="142.2" cy="757.8" r="2.7"/>
<circle cx="146.2" cy="758.7" r="2.7"/>
<circle cx="154.7" cy="760.2" r="2.7"/>
<circle cx="174.6" cy="759.3" r="2.7"/>
<circle cx="182.5" cy="756.9" r="2.7"/>
<circle cx="190.6" cy="758.7" r="2.7"/>
<circle cx="206.6" cy="760.6" r="2.7"/>
<circle cx="230.9" cy="751.6" r="2.7"/>
<circle cx="254.8" cy="639.8" r="2.7"/>
<circle cx="274.7" cy="643.3" r="2.7"/>
<circle cx="282.8" cy="637.6" r="2.7"/>
<circle cx="290.7" cy="643.3" r="2.7"/>
<circle cx="371.0" cy="638.7" r="2.7"/>
<circle cx="242.7" cy="656.8" r="2.7"/>
<circle cx="262.7" cy="657.9" r="2.7"/>
<circle cx="270.8" cy="661.9" r="2.7"/>
<circle cx="314.8" cy="657.1" r="2.7"/>
<circle cx="322.9" cy="662.7" r="2.7"/>
<circle cx="242.7" cy="667.1" r="2.7"/>
<circle cx="246.7" cy="668.4" r="2.7"/>
<circle cx="242.7" cy="671.1" r="2.7"/>
<circle cx="258.7" cy="667.1" r="2.7"/>
<circle cx="290.7" cy="678.7" r="2.7"/>
<circle cx="326.8" cy="678.7" r="2.7"/>
<circle cx="338.9" cy="683.1" r="2.7"/>
<circle cx="246.7" cy="684.2" r="2.7"/>
<circle cx="326.8" cy="689.5" r="2.7"/>
<circle cx="238.6" cy="691.0" r="2.7"/>
<circle cx="270.8" cy="692.3" r="2.7"/>
<circle cx="238.6" cy="698.9" r="2.7"/>
<circle cx="298.8" cy="696.5" r="2.7"/>
<circle cx="278.6" cy="700.0" r="2.7"/>
<circle cx="266.8" cy="702.2" r="2.7"/>
<circle cx="262.7" cy="705.7" r="2.7"/>
<circle cx="266.8" cy="716.4" r="2.7"/>
<circle cx="322.9" cy="713.1" r="2.7"/>
<circle cx="331.0" cy="714.2" r="2.7"/>
<circle cx="359.0" cy="718.6" r="2.7"/>
<circle cx="238.6" cy="727.3" r="2.7"/>
<circle cx="262.7" cy="726.2" r="2.7"/>
<circle cx="270.8" cy="723.4" r="2.7"/>
<circle cx="338.9" cy="729.3" r="2.7"/>
<circle cx="266.8" cy="736.8" r="2.7"/>
<circle cx="250.6" cy="739.8" r="2.7"/>
<circle cx="286.7" cy="740.0" r="2.7"/>
<circle cx="294.8" cy="744.6" r="2.7"/>
<circle cx="238.6" cy="743.8" r="2.7"/>
<circle cx="318.9" cy="749.9" r="2.7"/>
<circle cx="238.6" cy="753.8" r="2.7"/>
<circle cx="266.8" cy="754.9" r="2.7"/>
<circle cx="266.8" cy="760.2" r="2.7"/>
<circle cx="286.7" cy="764.6" r="2.7"/>
<circle cx="232.0" cy="758.7" r="2.7"/>
<circle cx="403.2" cy="700.6" r="2.7"/>
<circle cx="495.4" cy="702.4" r="2.7"/>
<circle cx="471.3" cy="733.7" r="2.7"/>
<circle cx="636.2" cy="682.2" r="2.7"/>
<circle cx="636.2" cy="719.9" r="2.7"/>
<circle cx="591.8" cy="758.2" r="2.7"/>
<circle cx="142.2" cy="769.3" r="2.7"/>
<circle cx="154.3" cy="768.2" r="2.7"/>
<circle cx="226.5" cy="767.8" r="2.7"/>
<circle cx="146.2" cy="778.5" r="2.7"/>
<circle cx="194.5" cy="780.9" r="2.7"/>
<circle cx="202.4" cy="785.3" r="2.7"/>
<circle cx="210.5" cy="783.5" r="2.7"/>
<circle cx="210.5" cy="785.7" r="2.7"/>
<circle cx="190.6" cy="789.6" r="2.7"/>
<circle cx="202.4" cy="793.4" r="2.7"/>
<circle cx="202.4" cy="795.6" r="2.7"/>
<circle cx="186.4" cy="795.1" r="2.7"/>
<circle cx="210.5" cy="795.1" r="2.7"/>
<circle cx="214.5" cy="796.7" r="2.7"/>
<circle cx="226.5" cy="794.5" r="2.7"/>
<circle cx="230.9" cy="793.4" r="2.7"/>
<circle cx="126.2" cy="792.3" r="2.7"/>
<circle cx="126.2" cy="794.9" r="2.7"/>
<circle cx="158.6" cy="799.3" r="2.7"/>
<circle cx="166.5" cy="800.6" r="2.7"/>
<circle cx="214.5" cy="805.4" r="2.7"/>
<circle cx="218.4" cy="809.8" r="2.7"/>
<circle cx="222.6" cy="807.6" r="2.7"/>
<circle cx="134.1" cy="806.1" r="2.7"/>
<circle cx="158.6" cy="806.5" r="2.7"/>
<circle cx="158.6" cy="812.0" r="2.7"/>
<circle cx="158.6" cy="815.9" r="2.7"/>
<circle cx="194.5" cy="815.3" r="2.7"/>
<circle cx="186.4" cy="824.5" r="2.7"/>
<circle cx="198.5" cy="828.4" r="2.7"/>
<circle cx="226.5" cy="824.0" r="2.7"/>
<circle cx="226.5" cy="826.2" r="2.7"/>
<circle cx="102.4" cy="822.9" r="2.7"/>
<circle cx="170.7" cy="829.5" r="2.7"/>
<circle cx="222.6" cy="836.7" r="2.7"/>
<circle cx="230.9" cy="836.1" r="2.7"/>
<circle cx="218.4" cy="847.0" r="2.7"/>
<circle cx="182.5" cy="850.3" r="2.7"/>
<circle cx="178.6" cy="852.1" r="2.7"/>
<circle cx="222.6" cy="852.9" r="2.7"/>
<circle cx="166.5" cy="856.9" r="2.7"/>
<circle cx="202.4" cy="859.1" r="2.7"/>
<circle cx="194.5" cy="861.7" r="2.7"/>
<circle cx="218.4" cy="858.2" r="2.7"/>
<circle cx="134.1" cy="857.5" r="2.7"/>
<circle cx="162.6" cy="860.2" r="2.7"/>
<circle cx="174.6" cy="866.1" r="2.7"/>
<circle cx="178.6" cy="864.5" r="2.7"/>
<circle cx="166.5" cy="868.9" r="2.7"/>
<circle cx="190.6" cy="872.6" r="2.7"/>
<circle cx="214.5" cy="873.3" r="2.7"/>
<circle cx="218.4" cy="881.4" r="2.7"/>
<circle cx="178.6" cy="885.8" r="2.7"/>
<circle cx="138.3" cy="885.8" r="2.7"/>
<circle cx="142.2" cy="884.2" r="2.7"/>
<circle cx="150.3" cy="885.3" r="2.7"/>
<circle cx="206.6" cy="889.1" r="2.7"/>
<circle cx="210.5" cy="889.1" r="2.7"/>
<circle cx="230.9" cy="888.6" r="2.7"/>
<circle cx="222.6" cy="892.3" r="2.7"/>
<circle cx="210.5" cy="898.0" r="2.7"/>
<circle cx="230.9" cy="898.9" r="2.7"/>
<circle cx="150.3" cy="903.5" r="2.7"/>
<circle cx="154.3" cy="908.8" r="2.7"/>
<circle cx="106.3" cy="908.8" r="2.7"/>
<circle cx="194.5" cy="906.1" r="2.7"/>
<circle cx="190.6" cy="908.3" r="2.7"/>
<circle cx="186.4" cy="910.5" r="2.7"/>
<circle cx="186.4" cy="912.7" r="2.7"/>
<circle cx="198.5" cy="913.1" r="2.7"/>
<circle cx="194.5" cy="917.1" r="2.7"/>
<circle cx="210.5" cy="910.1" r="2.7"/>
<circle cx="206.6" cy="918.2" r="2.7"/>
<circle cx="174.6" cy="921.5" r="2.7"/>
<circle cx="174.6" cy="925.8" r="2.7"/>
<circle cx="226.5" cy="929.8" r="2.7"/>
<circle cx="230.9" cy="929.1" r="2.7"/>
<circle cx="282.8" cy="773.7" r="2.7"/>
<circle cx="246.7" cy="775.9" r="2.7"/>
<circle cx="246.7" cy="778.5" r="2.7"/>
<circle cx="262.7" cy="779.8" r="2.7"/>
<circle cx="266.8" cy="783.5" r="2.7"/>
<circle cx="274.7" cy="780.9" r="2.7"/>
<circle cx="258.7" cy="786.4" r="2.7"/>
<circle cx="234.6" cy="788.6" r="2.7"/>
<circle cx="310.8" cy="784.6" r="2.7"/>
<circle cx="331.0" cy="773.7" r="2.7"/>
<circle cx="318.9" cy="792.3" r="2.7"/>
<circle cx="367.1" cy="772.6" r="2.7"/>
<circle cx="362.9" cy="780.2" r="2.7"/>
<circle cx="375.0" cy="798.8" r="2.7"/>
<circle cx="258.7" cy="801.0" r="2.7"/>
<circle cx="246.7" cy="807.6" r="2.7"/>
<circle cx="250.6" cy="810.4" r="2.7"/>
<circle cx="274.7" cy="808.3" r="2.7"/>
<circle cx="294.8" cy="804.3" r="2.7"/>
<circle cx="302.7" cy="806.9" r="2.7"/>
<circle cx="306.9" cy="805.4" r="2.7"/>
<circle cx="310.8" cy="809.8" r="2.7"/>
<circle cx="322.9" cy="806.9" r="2.7"/>
<circle cx="334.9" cy="806.5" r="2.7"/>
<circle cx="318.9" cy="816.4" r="2.7"/>
<circle cx="362.9" cy="825.6" r="2.7"/>
<circle cx="234.6" cy="815.9" r="2.7"/>
<circle cx="238.6" cy="836.1" r="2.7"/>
<circle cx="262.7" cy="841.1" r="2.7"/>
<circle cx="282.8" cy="841.1" r="2.7"/>
<circle cx="318.9" cy="838.7" r="2.7"/>
<circle cx="234.6" cy="848.1" r="2.7"/>
<circle cx="278.6" cy="852.5" r="2.7"/>
<circle cx="331.0" cy="855.8" r="2.7"/>
<circle cx="238.6" cy="861.9" r="2.7"/>
<circle cx="270.8" cy="867.6" r="2.7"/>
<circle cx="318.9" cy="871.8" r="2.7"/>
<circle cx="326.8" cy="872.9" r="2.7"/>
<circle cx="234.6" cy="874.8" r="2.7"/>
<circle cx="254.8" cy="875.5" r="2.7"/>
<circle cx="258.7" cy="880.3" r="2.7"/>
<circle cx="250.6" cy="883.8" r="2.7"/>
<circle cx="274.7" cy="882.7" r="2.7"/>
<circle cx="302.7" cy="883.8" r="2.7"/>
<circle cx="371.0" cy="875.5" r="2.7"/>
<circle cx="375.0" cy="892.3" r="2.7"/>
<circle cx="331.0" cy="895.2" r="2.7"/>
<circle cx="246.7" cy="900.0" r="2.7"/>
<circle cx="262.7" cy="897.4" r="2.7"/>
<circle cx="282.8" cy="899.6" r="2.7"/>
<circle cx="270.8" cy="906.1" r="2.7"/>
<circle cx="234.6" cy="905.5" r="2.7"/>
<circle cx="234.6" cy="911.0" r="2.7"/>
<circle cx="254.8" cy="910.1" r="2.7"/>
<circle cx="294.8" cy="915.3" r="2.7"/>
<circle cx="326.8" cy="910.5" r="2.7"/>
<circle cx="246.7" cy="919.3" r="2.7"/>
<circle cx="250.6" cy="924.1" r="2.7"/>
<circle cx="286.7" cy="924.7" r="2.7"/>
<circle cx="298.8" cy="920.8" r="2.7"/>
<circle cx="306.9" cy="930.7" r="2.7"/>
<circle cx="391.2" cy="775.2" r="2.7"/>
<circle cx="419.2" cy="790.5" r="2.7"/>
<circle cx="415.3" cy="804.8" r="2.7"/>
<circle cx="431.3" cy="838.3" r="2.7"/>
<circle cx="439.4" cy="843.1" r="2.7"/>
<circle cx="443.3" cy="841.1" r="2.7"/>
<circle cx="455.4" cy="836.5" r="2.7"/>
<circle cx="467.4" cy="838.7" r="2.7"/>
<circle cx="479.4" cy="829.5" r="2.7"/>
<circle cx="427.3" cy="854.7" r="2.7"/>
<circle cx="411.3" cy="862.8" r="2.7"/>
<circle cx="471.3" cy="862.3" r="2.7"/>
<circle cx="479.4" cy="878.3" r="2.7"/>
<circle cx="483.4" cy="883.1" r="2.7"/>
<circle cx="403.2" cy="885.6" r="2.7"/>
<circle cx="407.2" cy="885.6" r="2.7"/>
<circle cx="387.3" cy="900.7" r="2.7"/>
<circle cx="423.2" cy="911.8" r="2.7"/>
<circle cx="447.3" cy="913.8" r="2.7"/>
<circle cx="503.5" cy="916.2" r="2.7"/>
<circle cx="419.2" cy="927.2" r="2.7"/>
<circle cx="563.7" cy="799.3" r="2.7"/>
<circle cx="607.8" cy="829.5" r="2.7"/>
<circle cx="639.9" cy="840.7" r="2.7"/>
<circle cx="591.8" cy="853.4" r="2.7"/>
<circle cx="595.7" cy="855.6" r="2.7"/>
<circle cx="579.7" cy="874.8" r="2.7"/>
<circle cx="648.0" cy="881.8" r="2.7"/>
<circle cx="656.2" cy="900.0" r="2.7"/>
<circle cx="599.9" cy="927.4" r="2.7"/>
<circle cx="146.2" cy="938.7" r="2.7"/>
<circle cx="158.2" cy="940.2" r="2.7"/>
<circle cx="150.3" cy="947.6" r="2.7"/>
<circle cx="190.6" cy="939.8" r="2.7"/>
<circle cx="194.5" cy="937.6" r="2.7"/>
<circle cx="190.6" cy="942.4" r="2.7"/>
<circle cx="110.2" cy="951.8" r="2.7"/>
<circle cx="230.9" cy="951.4" r="2.7"/>
<circle cx="214.5" cy="957.7" r="2.7"/>
<circle cx="222.6" cy="959.5" r="2.7"/>
<circle cx="198.5" cy="963.4" r="2.7"/>
<circle cx="210.5" cy="968.2" r="2.7"/>
<circle cx="114.2" cy="981.4" r="2.7"/>
<circle cx="166.5" cy="981.8" r="2.7"/>
<circle cx="174.6" cy="983.8" r="2.7"/>
<circle cx="218.4" cy="979.2" r="2.7"/>
<circle cx="162.6" cy="995.8" r="2.7"/>
<circle cx="158.2" cy="1000.4" r="2.7"/>
<circle cx="222.6" cy="1015.5" r="2.7"/>
<circle cx="174.6" cy="1021.2" r="2.7"/>
<circle cx="182.5" cy="1020.8" r="2.7"/>
<circle cx="126.2" cy="1025.2" r="2.7"/>
<circle cx="154.3" cy="1033.3" r="2.7"/>
<circle cx="162.6" cy="1033.3" r="2.7"/>
<circle cx="166.5" cy="1037.6" r="2.7"/>
<circle cx="182.5" cy="1043.3" r="2.7"/>
<circle cx="186.4" cy="1043.8" r="2.7"/>
<circle cx="170.7" cy="1048.1" r="2.7"/>
<circle cx="206.6" cy="1048.8" r="2.7"/>
<circle cx="222.6" cy="1047.0" r="2.7"/>
<circle cx="282.8" cy="939.3" r="2.7"/>
<circle cx="290.7" cy="941.9" r="2.7"/>
<circle cx="302.7" cy="944.1" r="2.7"/>
<circle cx="322.9" cy="938.7" r="2.7"/>
<circle cx="338.9" cy="939.8" r="2.7"/>
<circle cx="367.1" cy="940.2" r="2.7"/>
<circle cx="278.6" cy="951.4" r="2.7"/>
<circle cx="282.8" cy="957.7" r="2.7"/>
<circle cx="310.8" cy="952.0" r="2.7"/>
<circle cx="242.7" cy="955.5" r="2.7"/>
<circle cx="290.7" cy="964.3" r="2.7"/>
<circle cx="298.8" cy="964.9" r="2.7"/>
<circle cx="331.0" cy="966.7" r="2.7"/>
<circle cx="234.6" cy="977.4" r="2.7"/>
<circle cx="246.7" cy="980.9" r="2.7"/>
<circle cx="290.7" cy="980.3" r="2.7"/>
<circle cx="274.7" cy="987.9" r="2.7"/>
<circle cx="367.1" cy="994.1" r="2.7"/>
<circle cx="250.6" cy="998.2" r="2.7"/>
<circle cx="286.7" cy="1004.4" r="2.7"/>
<circle cx="274.7" cy="1007.2" r="2.7"/>
<circle cx="234.6" cy="1009.0" r="2.7"/>
<circle cx="302.7" cy="1015.5" r="2.7"/>
<circle cx="331.0" cy="1013.1" r="2.7"/>
<circle cx="350.9" cy="1016.6" r="2.7"/>
<circle cx="298.8" cy="1024.7" r="2.7"/>
<circle cx="250.6" cy="1035.4" r="2.7"/>
<circle cx="286.7" cy="1037.0" r="2.7"/>
<circle cx="270.8" cy="1043.1" r="2.7"/>
<circle cx="395.1" cy="946.3" r="2.7"/>
<circle cx="403.2" cy="951.8" r="2.7"/>
<circle cx="411.3" cy="952.9" r="2.7"/>
<circle cx="391.2" cy="956.4" r="2.7"/>
<circle cx="435.2" cy="953.6" r="2.7"/>
<circle cx="499.6" cy="962.3" r="2.7"/>
<circle cx="403.2" cy="975.9" r="2.7"/>
<circle cx="419.2" cy="977.0" r="2.7"/>
<circle cx="387.3" cy="989.0" r="2.7"/>
<circle cx="419.2" cy="1013.5" r="2.7"/>
<circle cx="463.5" cy="1025.2" r="2.7"/>
<circle cx="499.6" cy="1017.7" r="2.7"/>
<circle cx="530.9" cy="1028.2" r="2.7"/>
<circle cx="387.3" cy="1044.2" r="2.7"/>
<circle cx="475.5" cy="1065.7" r="2.7"/>
<circle cx="624.0" cy="935.4" r="2.7"/>
<circle cx="587.8" cy="965.4" r="2.7"/>
<circle cx="579.7" cy="974.1" r="2.7"/>
<circle cx="583.9" cy="980.9" r="2.7"/>
<circle cx="599.9" cy="990.1" r="2.7"/>
<circle cx="615.9" cy="990.6" r="2.7"/>
<circle cx="627.9" cy="993.8" r="2.7"/>
<circle cx="656.2" cy="1000.0" r="2.7"/>
<circle cx="660.1" cy="1003.7" r="2.7"/>
<circle cx="539.7" cy="994.5" r="2.7"/>
<circle cx="603.8" cy="1029.5" r="2.7"/>
<circle cx="615.9" cy="1039.4" r="2.7"/>
<circle cx="599.9" cy="1058.0" r="2.7"/>
</g>
<g clip-path="url(#clipb)">
<path d="M97.9,835.3 L107.4,838.5 L117.0,841.8 L126.5,845.0 L136.0,848.3 L145.6,851.5 L155.1,854.7 L164.6,857.9 L174.2,861.1 L183.7,864.2 L193.3,867.3 L202.8,870.5 L212.3,873.5 L221.9,876.6 L231.4,879.6 L240.9,882.6 L250.5,885.5 L260.0,888.4 L269.5,891.3 L279.1,894.1 L288.6,896.9 L298.1,899.6 L307.7,902.3 L317.2,904.9 L326.8,907.4 L336.3,910.0 L345.8,912.4 L355.4,914.9 L364.9,917.3 L374.4,919.7 L384.0,922.0 L393.5,924.3 L403.0,926.6 L412.6,928.8 L422.1,931.0 L431.6,933.2 L441.2,935.4 L450.7,937.6 L460.3,939.8 L469.8,941.9 L479.3,944.0 L488.9,946.1 L498.4,948.3 L507.9,950.4 L517.5,952.4 L527.0,954.5 L536.5,956.6 L546.1,958.7 L555.6,960.7 L565.1,962.8 L574.7,964.9 L584.2,966.9 L593.8,969.0 L603.3,971.0 L612.8,973.1 L622.4,975.1 L631.9,977.1 L641.4,979.2 L651.0,981.2 L660.5,983.2 L660.5,1037.1 L651.0,1033.9 L641.4,1030.6 L631.9,1027.3 L622.4,1024.0 L612.8,1020.7 L603.3,1017.5 L593.8,1014.2 L584.2,1010.9 L574.7,1007.7 L565.1,1004.4 L555.6,1001.2 L546.1,997.9 L536.5,994.7 L527.0,991.4 L517.5,988.2 L507.9,985.0 L498.4,981.8 L488.9,978.5 L479.3,975.3 L469.8,972.1 L460.3,969.0 L450.7,965.8 L441.2,962.6 L431.6,959.5 L422.1,956.4 L412.6,953.3 L403.0,950.2 L393.5,947.1 L384.0,944.1 L374.4,941.1 L364.9,938.1 L355.4,935.2 L345.8,932.3 L336.3,929.5 L326.8,926.6 L317.2,923.9 L307.7,921.1 L298.1,918.5 L288.6,915.8 L279.1,913.2 L269.5,910.7 L260.0,908.2 L250.5,905.7 L240.9,903.3 L231.4,900.9 L221.9,898.6 L212.3,896.2 L202.8,893.9 L193.3,891.6 L183.7,889.4 L174.2,887.1 L164.6,884.9 L155.1,882.7 L145.6,880.5 L136.0,878.3 L126.5,876.1 L117.0,874.0 L107.4,871.8 L97.9,869.7Z" fill="rgba(89,109,209,0.5)" stroke="none"/>
<path d="M97.9,835.3 L107.4,838.5 L117.0,841.8 L126.5,845.0 L136.0,848.3 L145.6,851.5 L155.1,854.7 L164.6,857.9 L174.2,861.1 L183.7,864.2 L193.3,867.3 L202.8,870.5 L212.3,873.5 L221.9,876.6 L231.4,879.6 L240.9,882.6 L250.5,885.5 L260.0,888.4 L269.5,891.3 L279.1,894.1 L288.6,896.9 L298.1,899.6 L307.7,902.3 L317.2,904.9 L326.8,907.4 L336.3,910.0 L345.8,912.4 L355.4,914.9 L364.9,917.3 L374.4,919.7 L384.0,922.0 L393.5,924.3 L403.0,926.6 L412.6,928.8 L422.1,931.0 L431.6,933.2 L441.2,935.4 L450.7,937.6 L460.3,939.8 L469.8,941.9 L479.3,944.0 L488.9,946.1 L498.4,948.3 L507.9,950.4 L517.5,952.4 L527.0,954.5 L536.5,956.6 L546.1,958.7 L555.6,960.7 L565.1,962.8 L574.7,964.9 L584.2,966.9 L593.8,969.0 L603.3,971.0 L612.8,973.1 L622.4,975.1 L631.9,977.1 L641.4,979.2 L651.0,981.2 L660.5,983.2" fill="none" stroke="#483e3e" stroke-width="1.15" stroke-dasharray="8.6 8.6" stroke-dashoffset="-7.5"/>
<path d="M97.9,869.7 L107.4,871.8 L117.0,874.0 L126.5,876.1 L136.0,878.3 L145.6,880.5 L155.1,882.7 L164.6,884.9 L174.2,887.1 L183.7,889.4 L193.3,891.6 L202.8,893.9 L212.3,896.2 L221.9,898.6 L231.4,900.9 L240.9,903.3 L250.5,905.7 L260.0,908.2 L269.5,910.7 L279.1,913.2 L288.6,915.8 L298.1,918.5 L307.7,921.1 L317.2,923.9 L326.8,926.6 L336.3,929.5 L345.8,932.3 L355.4,935.2 L364.9,938.1 L374.4,941.1 L384.0,944.1 L393.5,947.1 L403.0,950.2 L412.6,953.3 L422.1,956.4 L431.6,959.5 L441.2,962.6 L450.7,965.8 L460.3,969.0 L469.8,972.1 L479.3,975.3 L488.9,978.5 L498.4,981.8 L507.9,985.0 L517.5,988.2 L527.0,991.4 L536.5,994.7 L546.1,997.9 L555.6,1001.2 L565.1,1004.4 L574.7,1007.7 L584.2,1010.9 L593.8,1014.2 L603.3,1017.5 L612.8,1020.7 L622.4,1024.0 L631.9,1027.3 L641.4,1030.6 L651.0,1033.9 L660.5,1037.1" fill="none" stroke="#483e3e" stroke-width="1.15" stroke-dasharray="8.6 8.6"/>
<line x1="97.9" y1="853.3" x2="660.5" y2="1011.8" stroke="#7F95D8" stroke-width="2.6" stroke-dasharray="17.5 17.5"/>
<path d="M102.6,765.2 L112.1,768.5 L121.5,771.7 L131.0,775.0 L140.4,778.2 L149.9,781.4 L159.3,784.6 L168.8,787.8 L178.2,790.9 L187.7,794.1 L197.2,797.2 L206.6,800.3 L216.1,803.4 L225.5,806.4 L235.0,809.4 L244.4,812.4 L253.9,815.3 L263.4,818.2 L272.8,821.0 L282.3,823.7 L291.7,826.4 L301.2,829.1 L310.6,831.7 L320.1,834.2 L329.5,836.6 L339.0,839.0 L348.5,841.3 L357.9,843.5 L367.4,845.7 L376.8,847.9 L386.3,850.0 L395.7,852.0 L405.2,854.0 L414.6,856.0 L424.1,858.0 L433.6,859.9 L443.0,861.8 L452.5,863.7 L461.9,865.6 L471.4,867.4 L480.8,869.3 L490.3,871.1 L499.7,872.9 L509.2,874.7 L518.7,876.5 L528.1,878.3 L537.6,880.1 L547.0,881.9 L556.5,883.6 L565.9,885.4 L575.4,887.1 L584.9,888.9 L594.3,890.6 L603.8,892.4 L613.2,894.1 L622.7,895.9 L632.1,897.6 L641.6,899.3 L651.0,901.0 L660.5,902.8 L660.5,967.1 L651.0,963.8 L641.6,960.5 L632.1,957.3 L622.7,954.0 L613.2,950.7 L603.8,947.5 L594.3,944.2 L584.9,940.9 L575.4,937.7 L565.9,934.4 L556.5,931.2 L547.0,927.9 L537.6,924.7 L528.1,921.4 L518.7,918.2 L509.2,915.0 L499.7,911.8 L490.3,908.5 L480.8,905.3 L471.4,902.1 L461.9,898.9 L452.5,895.8 L443.0,892.6 L433.6,889.4 L424.1,886.3 L414.6,883.1 L405.2,880.0 L395.7,876.9 L386.3,873.9 L376.8,870.8 L367.4,867.8 L357.9,864.9 L348.5,862.0 L339.0,859.1 L329.5,856.3 L320.1,853.5 L310.6,850.8 L301.2,848.2 L291.7,845.6 L282.3,843.1 L272.8,840.7 L263.4,838.4 L253.9,836.1 L244.4,833.9 L235.0,831.7 L225.5,829.6 L216.1,827.5 L206.6,825.5 L197.2,823.5 L187.7,821.5 L178.2,819.5 L168.8,817.6 L159.3,815.7 L149.9,813.8 L140.4,811.9 L131.0,810.0 L121.5,808.2 L112.1,806.3 L102.6,804.5Z" fill="rgba(219,89,89,0.5)" stroke="none"/>
<path d="M102.6,765.2 L112.1,768.5 L121.5,771.7 L131.0,775.0 L140.4,778.2 L149.9,781.4 L159.3,784.6 L168.8,787.8 L178.2,790.9 L187.7,794.1 L197.2,797.2 L206.6,800.3 L216.1,803.4 L225.5,806.4 L235.0,809.4 L244.4,812.4 L253.9,815.3 L263.4,818.2 L272.8,821.0 L282.3,823.7 L291.7,826.4 L301.2,829.1 L310.6,831.7 L320.1,834.2 L329.5,836.6 L339.0,839.0 L348.5,841.3 L357.9,843.5 L367.4,845.7 L376.8,847.9 L386.3,850.0 L395.7,852.0 L405.2,854.0 L414.6,856.0 L424.1,858.0 L433.6,859.9 L443.0,861.8 L452.5,863.7 L461.9,865.6 L471.4,867.4 L480.8,869.3 L490.3,871.1 L499.7,872.9 L509.2,874.7 L518.7,876.5 L528.1,878.3 L537.6,880.1 L547.0,881.9 L556.5,883.6 L565.9,885.4 L575.4,887.1 L584.9,888.9 L594.3,890.6 L603.8,892.4 L613.2,894.1 L622.7,895.9 L632.1,897.6 L641.6,899.3 L651.0,901.0 L660.5,902.8" fill="none" stroke="#483e3e" stroke-width="1.15"/>
<path d="M102.6,804.5 L112.1,806.3 L121.5,808.2 L131.0,810.0 L140.4,811.9 L149.9,813.8 L159.3,815.7 L168.8,817.6 L178.2,819.5 L187.7,821.5 L197.2,823.5 L206.6,825.5 L216.1,827.5 L225.5,829.6 L235.0,831.7 L244.4,833.9 L253.9,836.1 L263.4,838.4 L272.8,840.7 L282.3,843.1 L291.7,845.6 L301.2,848.2 L310.6,850.8 L320.1,853.5 L329.5,856.3 L339.0,859.1 L348.5,862.0 L357.9,864.9 L367.4,867.8 L376.8,870.8 L386.3,873.9 L395.7,876.9 L405.2,880.0 L414.6,883.1 L424.1,886.3 L433.6,889.4 L443.0,892.6 L452.5,895.8 L461.9,898.9 L471.4,902.1 L480.8,905.3 L490.3,908.5 L499.7,911.8 L509.2,915.0 L518.7,918.2 L528.1,921.4 L537.6,924.7 L547.0,927.9 L556.5,931.2 L565.9,934.4 L575.4,937.7 L584.9,940.9 L594.3,944.2 L603.8,947.5 L613.2,950.7 L622.7,954.0 L632.1,957.3 L641.6,960.5 L651.0,963.8 L660.5,967.1" fill="none" stroke="#483e3e" stroke-width="1.15"/>
<line x1="102.6" y1="786.7" x2="660.5" y2="935.4" stroke="#E3767D" stroke-width="2.6"/>
</g>
<rect x="82.0" y="601.2" width="602.1" height="491.89999999999986" fill="none" stroke="#262626" stroke-width="1.5"/>
<line x1="74.4" y1="1071.90" x2="82.0" y2="1071.90" stroke="#262626" stroke-width="1.4"/>
<text x="70.7" y="1077.20" font-size="17.4" text-anchor="end">0.0</text>
<line x1="78.1" y1="1026.96" x2="82.0" y2="1026.96" stroke="#262626" stroke-width="1.4"/>
<line x1="74.4" y1="982.01" x2="82.0" y2="982.01" stroke="#262626" stroke-width="1.4"/>
<text x="70.7" y="987.31" font-size="17.4" text-anchor="end">0.2</text>
<line x1="78.1" y1="937.07" x2="82.0" y2="937.07" stroke="#262626" stroke-width="1.4"/>
<line x1="74.4" y1="892.12" x2="82.0" y2="892.12" stroke="#262626" stroke-width="1.4"/>
<text x="70.7" y="897.42" font-size="17.4" text-anchor="end">0.4</text>
<line x1="78.1" y1="847.18" x2="82.0" y2="847.18" stroke="#262626" stroke-width="1.4"/>
<line x1="74.4" y1="802.23" x2="82.0" y2="802.23" stroke="#262626" stroke-width="1.4"/>
<text x="70.7" y="807.53" font-size="17.4" text-anchor="end">0.6</text>
<line x1="78.1" y1="757.29" x2="82.0" y2="757.29" stroke="#262626" stroke-width="1.4"/>
<line x1="74.4" y1="712.34" x2="82.0" y2="712.34" stroke="#262626" stroke-width="1.4"/>
<text x="70.7" y="717.64" font-size="17.4" text-anchor="end">0.8</text>
<line x1="78.1" y1="667.39" x2="82.0" y2="667.39" stroke="#262626" stroke-width="1.4"/>
<line x1="74.4" y1="622.45" x2="82.0" y2="622.45" stroke="#262626" stroke-width="1.4"/>
<text x="70.7" y="627.75" font-size="17.4" text-anchor="end">1.0</text>
<line x1="82.00" y1="1093.1" x2="82.00" y2="1100.6" stroke="#262626" stroke-width="1.4"/>
<text x="84.50" y="1116.30" font-size="17.4" text-anchor="middle">0</text>
<line x1="130.15" y1="1093.1" x2="130.15" y2="1097.1" stroke="#262626" stroke-width="1.4"/>
<line x1="178.30" y1="1093.1" x2="178.30" y2="1100.6" stroke="#262626" stroke-width="1.4"/>
<text x="180.80" y="1116.30" font-size="17.4" text-anchor="middle">120</text>
<line x1="226.45" y1="1093.1" x2="226.45" y2="1097.1" stroke="#262626" stroke-width="1.4"/>
<line x1="274.60" y1="1093.1" x2="274.60" y2="1100.6" stroke="#262626" stroke-width="1.4"/>
<text x="277.10" y="1116.30" font-size="17.4" text-anchor="middle">240</text>
<line x1="322.75" y1="1093.1" x2="322.75" y2="1097.1" stroke="#262626" stroke-width="1.4"/>
<line x1="370.90" y1="1093.1" x2="370.90" y2="1100.6" stroke="#262626" stroke-width="1.4"/>
<text x="373.40" y="1116.30" font-size="17.4" text-anchor="middle">360</text>
<line x1="419.05" y1="1093.1" x2="419.05" y2="1097.1" stroke="#262626" stroke-width="1.4"/>
<line x1="467.20" y1="1093.1" x2="467.20" y2="1100.6" stroke="#262626" stroke-width="1.4"/>
<text x="469.70" y="1116.30" font-size="17.4" text-anchor="middle">480</text>
<line x1="515.35" y1="1093.1" x2="515.35" y2="1097.1" stroke="#262626" stroke-width="1.4"/>
<line x1="563.50" y1="1093.1" x2="563.50" y2="1100.6" stroke="#262626" stroke-width="1.4"/>
<text x="566.00" y="1116.30" font-size="17.4" text-anchor="middle">600</text>
<line x1="611.65" y1="1093.1" x2="611.65" y2="1097.1" stroke="#262626" stroke-width="1.4"/>
<line x1="659.80" y1="1093.1" x2="659.80" y2="1100.6" stroke="#262626" stroke-width="1.4"/>
<text x="662.30" y="1116.30" font-size="17.4" text-anchor="middle">720</text>
<text x="-1.2" y="627.5" font-size="32.2">(b)</text>
<text transform="translate(25.2,1050.0) rotate(-90)" font-size="26.3">Probability of favorable outcome</text>
<text x="178.2" y="1144.0" font-size="26.4">Onset-to-puncture time (minutes)</text>
<rect x="435.0" y="613.70" width="195.5" height="79.9" fill="#fff" stroke="#262626" stroke-width="1.5"/>
<circle cx="457.9" cy="638.5" r="5.05" fill="#E03A4B"/>
<rect x="453.6" y="664.8" width="8.6" height="8.6" fill="#fff" stroke="#A8B0E8" stroke-width="1.7"/>
<line x1="486.9" y1="638.5" x2="535.0" y2="638.5" stroke="#C63E55" stroke-width="2.7"/>
<line x1="486.9" y1="669.0" x2="535.0" y2="669.0" stroke="#3E66B4" stroke-width="2.5" stroke-dasharray="8.8 8.6"/>
<text x="541.8" y="643.3" font-size="19.5">mTICI-3</text>
<text x="541.8" y="673.8" font-size="19.5">mTICI-2</text>
</g>
<g id="panel-c">
<clipPath id="clipc"><rect x="82.0" y="1198.4" width="602.1" height="492.79999999999995"/></clipPath>
<g>
<g fill="none" stroke="#4068B2" stroke-width="1.35">
<rect x="103.0" y="1352.8" width="4.5" height="4.5"/>
<rect x="126.1" y="1246.5" width="4.5" height="4.5"/>
<rect x="126.1" y="1268.2" width="4.5" height="4.5"/>
<rect x="126.1" y="1322.0" width="4.5" height="4.5"/>
<rect x="137.7" y="1284.2" width="4.5" height="4.5"/>
<rect x="137.7" y="1341.3" width="4.5" height="4.5"/>
<rect x="137.7" y="1349.0" width="4.5" height="4.5"/>
<rect x="149.2" y="1275.7" width="4.5" height="4.5"/>
<rect x="160.8" y="1277.5" width="4.5" height="4.5"/>
<rect x="160.8" y="1285.5" width="4.5" height="4.5"/>
<rect x="160.8" y="1316.8" width="4.5" height="4.5"/>
<rect x="160.8" y="1321.7" width="4.5" height="4.5"/>
<rect x="160.8" y="1357.2" width="4.5" height="4.5"/>
<rect x="172.3" y="1311.2" width="4.5" height="4.5"/>
<rect x="172.3" y="1328.7" width="4.5" height="4.5"/>
<rect x="172.3" y="1337.0" width="4.5" height="4.5"/>
<rect x="172.3" y="1345.3" width="4.5" height="4.5"/>
<rect x="183.9" y="1301.5" width="4.5" height="4.5"/>
<rect x="183.9" y="1305.2" width="4.5" height="4.5"/>
<rect x="183.9" y="1318.0" width="4.5" height="4.5"/>
<rect x="183.9" y="1334.8" width="4.5" height="4.5"/>
<rect x="183.9" y="1357.8" width="4.5" height="4.5"/>
<rect x="195.6" y="1312.8" width="4.5" height="4.5"/>
<rect x="195.6" y="1333.7" width="4.5" height="4.5"/>
<rect x="195.6" y="1352.3" width="4.5" height="4.5"/>
<rect x="195.6" y="1360.0" width="4.5" height="4.5"/>
<rect x="207.1" y="1331.5" width="4.5" height="4.5"/>
<rect x="218.7" y="1322.0" width="4.5" height="4.5"/>
<rect x="218.7" y="1339.2" width="4.5" height="4.5"/>
<rect x="218.7" y="1348.0" width="4.5" height="4.5"/>
<rect x="218.7" y="1357.8" width="4.5" height="4.5"/>
<rect x="241.8" y="1306.8" width="4.5" height="4.5"/>
<rect x="253.4" y="1334.3" width="4.5" height="4.5"/>
<rect x="264.9" y="1291.0" width="4.5" height="4.5"/>
<rect x="276.6" y="1292.3" width="4.5" height="4.5"/>
<rect x="276.6" y="1322.3" width="4.5" height="4.5"/>
<rect x="288.1" y="1344.2" width="4.5" height="4.5"/>
<rect x="299.8" y="1332.0" width="4.5" height="4.5"/>
<rect x="311.2" y="1323.5" width="4.5" height="4.5"/>
<rect x="450.2" y="1301.8" width="4.5" height="4.5"/>
<rect x="91.3" y="1493.7" width="4.5" height="4.5"/>
<rect x="114.5" y="1407.8" width="4.5" height="4.5"/>
<rect x="114.5" y="1457.0" width="4.5" height="4.5"/>
<rect x="114.5" y="1465.8" width="4.5" height="4.5"/>
<rect x="126.1" y="1375.7" width="4.5" height="4.5"/>
<rect x="126.1" y="1445.0" width="4.5" height="4.5"/>
<rect x="126.1" y="1458.2" width="4.5" height="4.5"/>
<rect x="126.1" y="1522.8" width="4.5" height="4.5"/>
<rect x="137.7" y="1370.7" width="4.5" height="4.5"/>
<rect x="137.7" y="1394.7" width="4.5" height="4.5"/>
<rect x="137.7" y="1411.5" width="4.5" height="4.5"/>
<rect x="137.7" y="1438.5" width="4.5" height="4.5"/>
<rect x="137.7" y="1525.5" width="4.5" height="4.5"/>
<rect x="149.2" y="1364.0" width="4.5" height="4.5"/>
<rect x="149.2" y="1375.7" width="4.5" height="4.5"/>
<rect x="149.2" y="1426.0" width="4.5" height="4.5"/>
<rect x="149.2" y="1432.0" width="4.5" height="4.5"/>
<rect x="149.2" y="1485.5" width="4.5" height="4.5"/>
<rect x="149.2" y="1511.8" width="4.5" height="4.5"/>
<rect x="149.2" y="1515.2" width="4.5" height="4.5"/>
<rect x="160.8" y="1365.2" width="4.5" height="4.5"/>
<rect x="160.8" y="1367.3" width="4.5" height="4.5"/>
<rect x="160.8" y="1381.5" width="4.5" height="4.5"/>
<rect x="160.8" y="1389.2" width="4.5" height="4.5"/>
<rect x="160.8" y="1393.5" width="4.5" height="4.5"/>
<rect x="160.8" y="1415.0" width="4.5" height="4.5"/>
<rect x="160.8" y="1427.5" width="4.5" height="4.5"/>
<rect x="160.8" y="1430.8" width="4.5" height="4.5"/>
<rect x="160.8" y="1441.8" width="4.5" height="4.5"/>
<rect x="160.8" y="1444.0" width="4.5" height="4.5"/>
<rect x="160.8" y="1479.0" width="4.5" height="4.5"/>
<rect x="160.8" y="1484.5" width="4.5" height="4.5"/>
<rect x="160.8" y="1490.0" width="4.5" height="4.5"/>
<rect x="160.8" y="1525.5" width="4.5" height="4.5"/>
<rect x="172.3" y="1364.0" width="4.5" height="4.5"/>
<rect x="172.3" y="1388.2" width="4.5" height="4.5"/>
<rect x="172.3" y="1417.7" width="4.5" height="4.5"/>
<rect x="172.3" y="1481.7" width="4.5" height="4.5"/>
<rect x="172.3" y="1516.7" width="4.5" height="4.5"/>
<rect x="183.9" y="1399.0" width="4.5" height="4.5"/>
<rect x="183.9" y="1418.2" width="4.5" height="4.5"/>
<rect x="183.9" y="1431.5" width="4.5" height="4.5"/>
<rect x="183.9" y="1450.5" width="4.5" height="4.5"/>
<rect x="183.9" y="1453.8" width="4.5" height="4.5"/>
<rect x="183.9" y="1492.2" width="4.5" height="4.5"/>
<rect x="183.9" y="1510.8" width="4.5" height="4.5"/>
<rect x="195.6" y="1390.3" width="4.5" height="4.5"/>
<rect x="195.6" y="1437.0" width="4.5" height="4.5"/>
<rect x="195.6" y="1462.2" width="4.5" height="4.5"/>
<rect x="195.6" y="1470.7" width="4.5" height="4.5"/>
<rect x="195.6" y="1477.8" width="4.5" height="4.5"/>
<rect x="195.6" y="1482.2" width="4.5" height="4.5"/>
<rect x="195.6" y="1522.8" width="4.5" height="4.5"/>
<rect x="207.1" y="1380.5" width="4.5" height="4.5"/>
<rect x="207.1" y="1383.8" width="4.5" height="4.5"/>
<rect x="207.1" y="1395.3" width="4.5" height="4.5"/>
<rect x="207.1" y="1412.7" width="4.5" height="4.5"/>
<rect x="207.1" y="1425.3" width="4.5" height="4.5"/>
<rect x="207.1" y="1485.2" width="4.5" height="4.5"/>
<rect x="207.1" y="1523.8" width="4.5" height="4.5"/>
<rect x="218.7" y="1380.5" width="4.5" height="4.5"/>
<rect x="218.7" y="1388.2" width="4.5" height="4.5"/>
<rect x="218.7" y="1413.3" width="4.5" height="4.5"/>
<rect x="218.7" y="1430.8" width="4.5" height="4.5"/>
<rect x="218.7" y="1438.5" width="4.5" height="4.5"/>
<rect x="218.7" y="1455.0" width="4.5" height="4.5"/>
<rect x="218.7" y="1471.3" width="4.5" height="4.5"/>
<rect x="218.7" y="1486.7" width="4.5" height="4.5"/>
<rect x="218.7" y="1490.0" width="4.5" height="4.5"/>
<rect x="218.7" y="1510.8" width="4.5" height="4.5"/>
<rect x="218.7" y="1511.8" width="4.5" height="4.5"/>
<rect x="230.2" y="1410.0" width="4.5" height="4.5"/>
<rect x="230.2" y="1421.0" width="4.5" height="4.5"/>
<rect x="230.2" y="1482.2" width="4.5" height="4.5"/>
<rect x="241.8" y="1373.8" width="4.5" height="4.5"/>
<rect x="241.8" y="1380.8" width="4.5" height="4.5"/>
<rect x="241.8" y="1386.5" width="4.5" height="4.5"/>
<rect x="241.8" y="1394.7" width="4.5" height="4.5"/>
<rect x="241.8" y="1431.5" width="4.5" height="4.5"/>
<rect x="241.8" y="1512.2" width="4.5" height="4.5"/>
<rect x="253.4" y="1395.8" width="4.5" height="4.5"/>
<rect x="253.4" y="1436.2" width="4.5" height="4.5"/>
<rect x="253.4" y="1458.7" width="4.5" height="4.5"/>
<rect x="253.4" y="1467.3" width="4.5" height="4.5"/>
<rect x="253.4" y="1511.3" width="4.5" height="4.5"/>
<rect x="264.9" y="1365.2" width="4.5" height="4.5"/>
<rect x="264.9" y="1398.7" width="4.5" height="4.5"/>
<rect x="264.9" y="1430.8" width="4.5" height="4.5"/>
<rect x="264.9" y="1440.7" width="4.5" height="4.5"/>
<rect x="264.9" y="1449.8" width="4.5" height="4.5"/>
<rect x="264.9" y="1456.7" width="4.5" height="4.5"/>
<rect x="264.9" y="1519.5" width="4.5" height="4.5"/>
<rect x="276.6" y="1467.7" width="4.5" height="4.5"/>
<rect x="288.1" y="1363.0" width="4.5" height="4.5"/>
<rect x="288.1" y="1368.0" width="4.5" height="4.5"/>
<rect x="288.1" y="1426.8" width="4.5" height="4.5"/>
<rect x="288.1" y="1460.3" width="4.5" height="4.5"/>
<rect x="288.1" y="1475.2" width="4.5" height="4.5"/>
<rect x="288.1" y="1523.2" width="4.5" height="4.5"/>
<rect x="299.8" y="1372.2" width="4.5" height="4.5"/>
<rect x="299.8" y="1433.7" width="4.5" height="4.5"/>
<rect x="299.8" y="1455.5" width="4.5" height="4.5"/>
<rect x="311.2" y="1446.8" width="4.5" height="4.5"/>
<rect x="311.2" y="1474.0" width="4.5" height="4.5"/>
<rect x="311.2" y="1488.5" width="4.5" height="4.5"/>
<rect x="322.9" y="1396.8" width="4.5" height="4.5"/>
<rect x="322.9" y="1447.7" width="4.5" height="4.5"/>
<rect x="346.1" y="1438.5" width="4.5" height="4.5"/>
<rect x="357.6" y="1486.7" width="4.5" height="4.5"/>
<rect x="357.6" y="1505.2" width="4.5" height="4.5"/>
<rect x="392.4" y="1487.0" width="4.5" height="4.5"/>
<rect x="403.9" y="1457.0" width="4.5" height="4.5"/>
<rect x="403.9" y="1507.5" width="4.5" height="4.5"/>
<rect x="415.4" y="1520.2" width="4.5" height="4.5"/>
<rect x="438.6" y="1487.5" width="4.5" height="4.5"/>
<rect x="450.2" y="1523.8" width="4.5" height="4.5"/>
<rect x="461.8" y="1519.5" width="4.5" height="4.5"/>
<rect x="473.4" y="1372.8" width="4.5" height="4.5"/>
<rect x="496.6" y="1452.8" width="4.5" height="4.5"/>
<rect x="103.0" y="1542.8" width="4.5" height="4.5"/>
<rect x="103.0" y="1559.7" width="4.5" height="4.5"/>
<rect x="114.5" y="1594.8" width="4.5" height="4.5"/>
<rect x="114.5" y="1609.0" width="4.5" height="4.5"/>
<rect x="114.5" y="1617.8" width="4.5" height="4.5"/>
<rect x="114.5" y="1632.7" width="4.5" height="4.5"/>
<rect x="126.1" y="1542.8" width="4.5" height="4.5"/>
<rect x="126.1" y="1573.2" width="4.5" height="4.5"/>
<rect x="126.1" y="1612.2" width="4.5" height="4.5"/>
<rect x="126.1" y="1620.3" width="4.5" height="4.5"/>
<rect x="137.7" y="1540.0" width="4.5" height="4.5"/>
<rect x="137.7" y="1560.8" width="4.5" height="4.5"/>
<rect x="137.7" y="1563.5" width="4.5" height="4.5"/>
<rect x="137.7" y="1566.2" width="4.5" height="4.5"/>
<rect x="137.7" y="1569.2" width="4.5" height="4.5"/>
<rect x="137.7" y="1572.2" width="4.5" height="4.5"/>
<rect x="137.7" y="1587.0" width="4.5" height="4.5"/>
<rect x="137.7" y="1647.2" width="4.5" height="4.5"/>
<rect x="149.2" y="1543.2" width="4.5" height="4.5"/>
<rect x="149.2" y="1560.8" width="4.5" height="4.5"/>
<rect x="149.2" y="1589.2" width="4.5" height="4.5"/>
<rect x="149.2" y="1615.5" width="4.5" height="4.5"/>
<rect x="149.2" y="1645.0" width="4.5" height="4.5"/>
<rect x="149.2" y="1647.2" width="4.5" height="4.5"/>
<rect x="149.2" y="1649.5" width="4.5" height="4.5"/>
<rect x="160.8" y="1530.2" width="4.5" height="4.5"/>
<rect x="160.8" y="1554.8" width="4.5" height="4.5"/>
<rect x="160.8" y="1567.0" width="4.5" height="4.5"/>
<rect x="160.8" y="1572.8" width="4.5" height="4.5"/>
<rect x="160.8" y="1577.2" width="4.5" height="4.5"/>
<rect x="160.8" y="1610.0" width="4.5" height="4.5"/>
<rect x="160.8" y="1612.8" width="4.5" height="4.5"/>
<rect x="160.8" y="1615.5" width="4.5" height="4.5"/>
<rect x="160.8" y="1617.8" width="4.5" height="4.5"/>
<rect x="160.8" y="1625.3" width="4.5" height="4.5"/>
<rect x="160.8" y="1650.2" width="4.5" height="4.5"/>
<rect x="160.8" y="1652.3" width="4.5" height="4.5"/>
<rect x="160.8" y="1654.5" width="4.5" height="4.5"/>
<rect x="172.3" y="1529.0" width="4.5" height="4.5"/>
<rect x="172.3" y="1558.5" width="4.5" height="4.5"/>
<rect x="172.3" y="1569.5" width="4.5" height="4.5"/>
<rect x="172.3" y="1575.0" width="4.5" height="4.5"/>
<rect x="172.3" y="1584.8" width="4.5" height="4.5"/>
<rect x="172.3" y="1587.0" width="4.5" height="4.5"/>
<rect x="172.3" y="1594.8" width="4.5" height="4.5"/>
<rect x="172.3" y="1598.0" width="4.5" height="4.5"/>
<rect x="172.3" y="1601.2" width="4.5" height="4.5"/>
<rect x="172.3" y="1604.5" width="4.5" height="4.5"/>
<rect x="172.3" y="1606.8" width="4.5" height="4.5"/>
<rect x="172.3" y="1622.0" width="4.5" height="4.5"/>
<rect x="172.3" y="1631.2" width="4.5" height="4.5"/>
<rect x="172.3" y="1648.0" width="4.5" height="4.5"/>
<rect x="183.9" y="1529.0" width="4.5" height="4.5"/>
<rect x="183.9" y="1561.8" width="4.5" height="4.5"/>
<rect x="183.9" y="1612.2" width="4.5" height="4.5"/>
<rect x="183.9" y="1615.5" width="4.5" height="4.5"/>
<rect x="183.9" y="1627.5" width="4.5" height="4.5"/>
<rect x="183.9" y="1629.8" width="4.5" height="4.5"/>
<rect x="183.9" y="1647.8" width="4.5" height="4.5"/>
<rect x="195.6" y="1537.2" width="4.5" height="4.5"/>
<rect x="195.6" y="1578.3" width="4.5" height="4.5"/>
<rect x="195.6" y="1587.0" width="4.5" height="4.5"/>
<rect x="195.6" y="1617.8" width="4.5" height="4.5"/>
<rect x="195.6" y="1620.3" width="4.5" height="4.5"/>
<rect x="195.6" y="1623.2" width="4.5" height="4.5"/>
<rect x="195.6" y="1628.2" width="4.5" height="4.5"/>
<rect x="207.1" y="1540.7" width="4.5" height="4.5"/>
<rect x="207.1" y="1569.2" width="4.5" height="4.5"/>
<rect x="207.1" y="1578.8" width="4.5" height="4.5"/>
<rect x="207.1" y="1607.8" width="4.5" height="4.5"/>
<rect x="207.1" y="1617.8" width="4.5" height="4.5"/>
<rect x="207.1" y="1627.2" width="4.5" height="4.5"/>
<rect x="207.1" y="1636.3" width="4.5" height="4.5"/>
<rect x="207.1" y="1652.0" width="4.5" height="4.5"/>
<rect x="218.7" y="1567.3" width="4.5" height="4.5"/>
<rect x="218.7" y="1575.0" width="4.5" height="4.5"/>
<rect x="218.7" y="1585.3" width="4.5" height="4.5"/>
<rect x="218.7" y="1595.8" width="4.5" height="4.5"/>
<rect x="218.7" y="1601.2" width="4.5" height="4.5"/>
<rect x="218.7" y="1610.8" width="4.5" height="4.5"/>
<rect x="230.2" y="1528.0" width="4.5" height="4.5"/>
<rect x="230.2" y="1540.7" width="4.5" height="4.5"/>
<rect x="230.2" y="1599.2" width="4.5" height="4.5"/>
<rect x="230.2" y="1610.0" width="4.5" height="4.5"/>
<rect x="241.8" y="1553.5" width="4.5" height="4.5"/>
<rect x="241.8" y="1576.5" width="4.5" height="4.5"/>
<rect x="241.8" y="1578.8" width="4.5" height="4.5"/>
<rect x="241.8" y="1601.8" width="4.5" height="4.5"/>
<rect x="241.8" y="1619.2" width="4.5" height="4.5"/>
<rect x="241.8" y="1621.0" width="4.5" height="4.5"/>
<rect x="253.4" y="1533.8" width="4.5" height="4.5"/>
<rect x="253.4" y="1550.2" width="4.5" height="4.5"/>
<rect x="253.4" y="1559.7" width="4.5" height="4.5"/>
<rect x="253.4" y="1566.7" width="4.5" height="4.5"/>
<rect x="253.4" y="1581.5" width="4.5" height="4.5"/>
<rect x="253.4" y="1641.2" width="4.5" height="4.5"/>
<rect x="264.9" y="1530.2" width="4.5" height="4.5"/>
<rect x="264.9" y="1536.0" width="4.5" height="4.5"/>
<rect x="264.9" y="1556.5" width="4.5" height="4.5"/>
<rect x="264.9" y="1576.8" width="4.5" height="4.5"/>
<rect x="264.9" y="1590.0" width="4.5" height="4.5"/>
<rect x="264.9" y="1608.2" width="4.5" height="4.5"/>
<rect x="264.9" y="1652.0" width="4.5" height="4.5"/>
<rect x="276.6" y="1559.0" width="4.5" height="4.5"/>
<rect x="276.6" y="1567.8" width="4.5" height="4.5"/>
<rect x="276.6" y="1643.5" width="4.5" height="4.5"/>
<rect x="288.1" y="1552.0" width="4.5" height="4.5"/>
<rect x="288.1" y="1580.5" width="4.5" height="4.5"/>
<rect x="288.1" y="1594.8" width="4.5" height="4.5"/>
<rect x="288.1" y="1604.0" width="4.5" height="4.5"/>
<rect x="288.1" y="1614.0" width="4.5" height="4.5"/>
<rect x="288.1" y="1624.2" width="4.5" height="4.5"/>
<rect x="299.8" y="1554.2" width="4.5" height="4.5"/>
<rect x="299.8" y="1588.5" width="4.5" height="4.5"/>
<rect x="299.8" y="1614.8" width="4.5" height="4.5"/>
<rect x="311.2" y="1551.5" width="4.5" height="4.5"/>
<rect x="311.2" y="1588.5" width="4.5" height="4.5"/>
<rect x="322.9" y="1585.3" width="4.5" height="4.5"/>
<rect x="322.9" y="1593.2" width="4.5" height="4.5"/>
<rect x="322.9" y="1639.7" width="4.5" height="4.5"/>
<rect x="322.9" y="1649.5" width="4.5" height="4.5"/>
<rect x="322.9" y="1653.8" width="4.5" height="4.5"/>
<rect x="334.4" y="1597.0" width="4.5" height="4.5"/>
<rect x="334.4" y="1605.7" width="4.5" height="4.5"/>
<rect x="334.4" y="1611.5" width="4.5" height="4.5"/>
<rect x="334.4" y="1625.3" width="4.5" height="4.5"/>
<rect x="346.1" y="1555.3" width="4.5" height="4.5"/>
<rect x="346.1" y="1573.5" width="4.5" height="4.5"/>
<rect x="346.1" y="1615.5" width="4.5" height="4.5"/>
<rect x="357.6" y="1616.0" width="4.5" height="4.5"/>
<rect x="357.6" y="1632.7" width="4.5" height="4.5"/>
<rect x="357.6" y="1657.5" width="4.5" height="4.5"/>
<rect x="369.1" y="1568.7" width="4.5" height="4.5"/>
<rect x="369.1" y="1582.8" width="4.5" height="4.5"/>
<rect x="380.8" y="1538.8" width="4.5" height="4.5"/>
<rect x="392.4" y="1588.8" width="4.5" height="4.5"/>
<rect x="415.4" y="1567.3" width="4.5" height="4.5"/>
<rect x="415.4" y="1574.3" width="4.5" height="4.5"/>
<rect x="415.4" y="1617.2" width="4.5" height="4.5"/>
<rect x="427.1" y="1560.3" width="4.5" height="4.5"/>
<rect x="427.1" y="1605.0" width="4.5" height="4.5"/>
<rect x="438.6" y="1587.5" width="4.5" height="4.5"/>
<rect x="438.6" y="1594.8" width="4.5" height="4.5"/>
<rect x="438.6" y="1608.2" width="4.5" height="4.5"/>
<rect x="450.2" y="1657.8" width="4.5" height="4.5"/>
<rect x="496.6" y="1565.8" width="4.5" height="4.5"/>
<rect x="496.6" y="1621.7" width="4.5" height="4.5"/>
<rect x="508.1" y="1631.5" width="4.5" height="4.5"/>
<rect x="519.6" y="1580.5" width="4.5" height="4.5"/>
<rect x="519.6" y="1616.7" width="4.5" height="4.5"/>
<rect x="542.9" y="1573.5" width="4.5" height="4.5"/>
<rect x="647.0" y="1645.0" width="4.5" height="4.5"/>
</g>
<g fill="#E0384B">
<circle cx="105.2" cy="1280.5" r="2.7"/>
<circle cx="116.7" cy="1297.6" r="2.7"/>
<circle cx="116.7" cy="1299.8" r="2.7"/>
<circle cx="116.7" cy="1357.4" r="2.7"/>
<circle cx="128.3" cy="1235.9" r="2.7"/>
<circle cx="128.3" cy="1248.8" r="2.7"/>
<circle cx="128.3" cy="1260.4" r="2.7"/>
<circle cx="128.3" cy="1276.8" r="2.7"/>
<circle cx="128.3" cy="1282.3" r="2.7"/>
<circle cx="128.3" cy="1286.0" r="2.7"/>
<circle cx="128.3" cy="1289.5" r="2.7"/>
<circle cx="128.3" cy="1316.2" r="2.7"/>
<circle cx="128.3" cy="1322.8" r="2.7"/>
<circle cx="128.3" cy="1337.3" r="2.7"/>
<circle cx="128.3" cy="1355.7" r="2.7"/>
<circle cx="139.9" cy="1224.3" r="2.7"/>
<circle cx="139.9" cy="1236.3" r="2.7"/>
<circle cx="139.9" cy="1244.0" r="2.7"/>
<circle cx="139.9" cy="1251.2" r="2.7"/>
<circle cx="139.9" cy="1253.8" r="2.7"/>
<circle cx="139.9" cy="1258.2" r="2.7"/>
<circle cx="139.9" cy="1267.0" r="2.7"/>
<circle cx="139.9" cy="1268.5" r="2.7"/>
<circle cx="139.9" cy="1276.2" r="2.7"/>
<circle cx="139.9" cy="1281.2" r="2.7"/>
<circle cx="139.9" cy="1284.5" r="2.7"/>
<circle cx="139.9" cy="1303.1" r="2.7"/>
<circle cx="139.9" cy="1311.4" r="2.7"/>
<circle cx="139.9" cy="1323.9" r="2.7"/>
<circle cx="139.9" cy="1336.6" r="2.7"/>
<circle cx="139.9" cy="1342.5" r="2.7"/>
<circle cx="139.9" cy="1345.8" r="2.7"/>
<circle cx="139.9" cy="1349.1" r="2.7"/>
<circle cx="139.9" cy="1355.7" r="2.7"/>
<circle cx="151.5" cy="1254.5" r="2.7"/>
<circle cx="151.5" cy="1258.2" r="2.7"/>
<circle cx="151.5" cy="1265.9" r="2.7"/>
<circle cx="151.5" cy="1268.5" r="2.7"/>
<circle cx="151.5" cy="1272.4" r="2.7"/>
<circle cx="151.5" cy="1281.2" r="2.7"/>
<circle cx="151.5" cy="1296.1" r="2.7"/>
<circle cx="151.5" cy="1299.2" r="2.7"/>
<circle cx="151.5" cy="1310.8" r="2.7"/>
<circle cx="151.5" cy="1317.3" r="2.7"/>
<circle cx="151.5" cy="1326.5" r="2.7"/>
<circle cx="151.5" cy="1343.6" r="2.7"/>
<circle cx="163.0" cy="1237.0" r="2.7"/>
<circle cx="163.0" cy="1240.0" r="2.7"/>
<circle cx="163.0" cy="1251.2" r="2.7"/>
<circle cx="163.0" cy="1256.7" r="2.7"/>
<circle cx="163.0" cy="1268.5" r="2.7"/>
<circle cx="163.0" cy="1286.7" r="2.7"/>
<circle cx="163.0" cy="1297.2" r="2.7"/>
<circle cx="163.0" cy="1315.1" r="2.7"/>
<circle cx="163.0" cy="1320.6" r="2.7"/>
<circle cx="163.0" cy="1323.9" r="2.7"/>
<circle cx="163.0" cy="1327.2" r="2.7"/>
<circle cx="163.0" cy="1330.9" r="2.7"/>
<circle cx="163.0" cy="1336.4" r="2.7"/>
<circle cx="163.0" cy="1340.3" r="2.7"/>
<circle cx="163.0" cy="1343.6" r="2.7"/>
<circle cx="163.0" cy="1347.3" r="2.7"/>
<circle cx="163.0" cy="1352.4" r="2.7"/>
<circle cx="174.6" cy="1229.7" r="2.7"/>
<circle cx="174.6" cy="1254.9" r="2.7"/>
<circle cx="174.6" cy="1264.3" r="2.7"/>
<circle cx="174.6" cy="1267.6" r="2.7"/>
<circle cx="174.6" cy="1270.9" r="2.7"/>
<circle cx="174.6" cy="1288.2" r="2.7"/>
<circle cx="174.6" cy="1293.2" r="2.7"/>
<circle cx="174.6" cy="1299.2" r="2.7"/>
<circle cx="174.6" cy="1302.0" r="2.7"/>
<circle cx="174.6" cy="1314.0" r="2.7"/>
<circle cx="174.6" cy="1317.3" r="2.7"/>
<circle cx="174.6" cy="1320.6" r="2.7"/>
<circle cx="174.6" cy="1344.3" r="2.7"/>
<circle cx="186.2" cy="1233.0" r="2.7"/>
<circle cx="186.2" cy="1318.0" r="2.7"/>
<circle cx="186.2" cy="1337.0" r="2.7"/>
<circle cx="186.2" cy="1353.5" r="2.7"/>
<circle cx="186.2" cy="1356.7" r="2.7"/>
<circle cx="197.8" cy="1237.9" r="2.7"/>
<circle cx="197.8" cy="1265.9" r="2.7"/>
<circle cx="197.8" cy="1276.2" r="2.7"/>
<circle cx="197.8" cy="1288.4" r="2.7"/>
<circle cx="197.8" cy="1317.8" r="2.7"/>
<circle cx="197.8" cy="1341.4" r="2.7"/>
<circle cx="197.8" cy="1356.7" r="2.7"/>
<circle cx="209.3" cy="1251.2" r="2.7"/>
<circle cx="209.3" cy="1255.4" r="2.7"/>
<circle cx="209.3" cy="1286.0" r="2.7"/>
<circle cx="209.3" cy="1295.2" r="2.7"/>
<circle cx="209.3" cy="1315.1" r="2.7"/>
<circle cx="220.9" cy="1231.9" r="2.7"/>
<circle cx="220.9" cy="1234.1" r="2.7"/>
<circle cx="220.9" cy="1259.7" r="2.7"/>
<circle cx="220.9" cy="1279.5" r="2.7"/>
<circle cx="220.9" cy="1290.0" r="2.7"/>
<circle cx="220.9" cy="1315.1" r="2.7"/>
<circle cx="220.9" cy="1357.8" r="2.7"/>
<circle cx="232.5" cy="1253.8" r="2.7"/>
<circle cx="232.5" cy="1268.5" r="2.7"/>
<circle cx="232.5" cy="1305.3" r="2.7"/>
<circle cx="232.5" cy="1317.3" r="2.7"/>
<circle cx="232.5" cy="1333.8" r="2.7"/>
<circle cx="232.5" cy="1355.2" r="2.7"/>
<circle cx="232.5" cy="1322.2" r="2.7"/>
<circle cx="244.1" cy="1341.9" r="2.7"/>
<circle cx="255.7" cy="1240.7" r="2.7"/>
<circle cx="255.7" cy="1299.4" r="2.7"/>
<circle cx="255.7" cy="1330.9" r="2.7"/>
<circle cx="255.7" cy="1348.2" r="2.7"/>
<circle cx="278.8" cy="1237.9" r="2.7"/>
<circle cx="290.4" cy="1264.8" r="2.7"/>
<circle cx="313.5" cy="1242.4" r="2.7"/>
<circle cx="359.8" cy="1324.6" r="2.7"/>
<circle cx="637.7" cy="1342.5" r="2.7"/>
<circle cx="116.7" cy="1382.0" r="2.7"/>
<circle cx="116.7" cy="1402.0" r="2.7"/>
<circle cx="116.7" cy="1404.6" r="2.7"/>
<circle cx="128.3" cy="1392.6" r="2.7"/>
<circle cx="128.3" cy="1394.3" r="2.7"/>
<circle cx="128.3" cy="1420.4" r="2.7"/>
<circle cx="128.3" cy="1453.9" r="2.7"/>
<circle cx="128.3" cy="1459.3" r="2.7"/>
<circle cx="128.3" cy="1516.9" r="2.7"/>
<circle cx="139.9" cy="1371.3" r="2.7"/>
<circle cx="139.9" cy="1373.9" r="2.7"/>
<circle cx="139.9" cy="1377.2" r="2.7"/>
<circle cx="139.9" cy="1380.5" r="2.7"/>
<circle cx="139.9" cy="1399.1" r="2.7"/>
<circle cx="139.9" cy="1403.5" r="2.7"/>
<circle cx="139.9" cy="1426.5" r="2.7"/>
<circle cx="139.9" cy="1436.4" r="2.7"/>
<circle cx="139.9" cy="1472.0" r="2.7"/>
<circle cx="139.9" cy="1483.0" r="2.7"/>
<circle cx="139.9" cy="1495.5" r="2.7"/>
<circle cx="139.9" cy="1506.0" r="2.7"/>
<circle cx="151.5" cy="1377.2" r="2.7"/>
<circle cx="151.5" cy="1379.4" r="2.7"/>
<circle cx="151.5" cy="1383.8" r="2.7"/>
<circle cx="151.5" cy="1387.1" r="2.7"/>
<circle cx="151.5" cy="1403.9" r="2.7"/>
<circle cx="151.5" cy="1423.2" r="2.7"/>
<circle cx="151.5" cy="1434.2" r="2.7"/>
<circle cx="151.5" cy="1467.0" r="2.7"/>
<circle cx="151.5" cy="1471.4" r="2.7"/>
<circle cx="151.5" cy="1479.0" r="2.7"/>
<circle cx="151.5" cy="1483.0" r="2.7"/>
<circle cx="151.5" cy="1508.6" r="2.7"/>
<circle cx="151.5" cy="1511.9" r="2.7"/>
<circle cx="163.0" cy="1365.2" r="2.7"/>
<circle cx="163.0" cy="1378.3" r="2.7"/>
<circle cx="163.0" cy="1383.8" r="2.7"/>
<circle cx="163.0" cy="1390.4" r="2.7"/>
<circle cx="163.0" cy="1392.6" r="2.7"/>
<circle cx="163.0" cy="1401.3" r="2.7"/>
<circle cx="163.0" cy="1404.6" r="2.7"/>
<circle cx="163.0" cy="1409.0" r="2.7"/>
<circle cx="163.0" cy="1412.3" r="2.7"/>
<circle cx="163.0" cy="1437.4" r="2.7"/>
<circle cx="163.0" cy="1450.6" r="2.7"/>
<circle cx="163.0" cy="1458.2" r="2.7"/>
<circle cx="163.0" cy="1469.6" r="2.7"/>
<circle cx="163.0" cy="1471.8" r="2.7"/>
<circle cx="163.0" cy="1496.6" r="2.7"/>
<circle cx="163.0" cy="1503.1" r="2.7"/>
<circle cx="163.0" cy="1506.4" r="2.7"/>
<circle cx="163.0" cy="1509.7" r="2.7"/>
<circle cx="163.0" cy="1513.0" r="2.7"/>
<circle cx="174.6" cy="1365.2" r="2.7"/>
<circle cx="174.6" cy="1373.9" r="2.7"/>
<circle cx="174.6" cy="1403.5" r="2.7"/>
<circle cx="174.6" cy="1412.3" r="2.7"/>
<circle cx="174.6" cy="1423.2" r="2.7"/>
<circle cx="174.6" cy="1426.5" r="2.7"/>
<circle cx="174.6" cy="1433.1" r="2.7"/>
<circle cx="174.6" cy="1438.5" r="2.7"/>
<circle cx="174.6" cy="1452.3" r="2.7"/>
<circle cx="174.6" cy="1460.0" r="2.7"/>
<circle cx="174.6" cy="1476.2" r="2.7"/>
<circle cx="174.6" cy="1497.0" r="2.7"/>
<circle cx="174.6" cy="1507.5" r="2.7"/>
<circle cx="174.6" cy="1510.8" r="2.7"/>
<circle cx="174.6" cy="1514.1" r="2.7"/>
<circle cx="186.2" cy="1363.0" r="2.7"/>
<circle cx="186.2" cy="1377.9" r="2.7"/>
<circle cx="186.2" cy="1396.9" r="2.7"/>
<circle cx="186.2" cy="1407.9" r="2.7"/>
<circle cx="186.2" cy="1433.1" r="2.7"/>
<circle cx="186.2" cy="1440.7" r="2.7"/>
<circle cx="186.2" cy="1449.5" r="2.7"/>
<circle cx="186.2" cy="1464.8" r="2.7"/>
<circle cx="186.2" cy="1483.0" r="2.7"/>
<circle cx="186.2" cy="1490.0" r="2.7"/>
<circle cx="186.2" cy="1515.2" r="2.7"/>
<circle cx="197.8" cy="1371.3" r="2.7"/>
<circle cx="197.8" cy="1391.5" r="2.7"/>
<circle cx="197.8" cy="1395.8" r="2.7"/>
<circle cx="197.8" cy="1421.7" r="2.7"/>
<circle cx="197.8" cy="1450.1" r="2.7"/>
<circle cx="197.8" cy="1455.0" r="2.7"/>
<circle cx="197.8" cy="1458.2" r="2.7"/>
<circle cx="197.8" cy="1460.4" r="2.7"/>
<circle cx="197.8" cy="1519.6" r="2.7"/>
<circle cx="209.3" cy="1366.3" r="2.7"/>
<circle cx="209.3" cy="1390.4" r="2.7"/>
<circle cx="209.3" cy="1407.9" r="2.7"/>
<circle cx="209.3" cy="1455.0" r="2.7"/>
<circle cx="209.3" cy="1459.3" r="2.7"/>
<circle cx="209.3" cy="1462.6" r="2.7"/>
<circle cx="209.3" cy="1464.8" r="2.7"/>
<circle cx="209.3" cy="1478.0" r="2.7"/>
<circle cx="209.3" cy="1513.0" r="2.7"/>
<circle cx="220.9" cy="1383.1" r="2.7"/>
<circle cx="220.9" cy="1407.9" r="2.7"/>
<circle cx="220.9" cy="1453.9" r="2.7"/>
<circle cx="220.9" cy="1457.2" r="2.7"/>
<circle cx="220.9" cy="1460.4" r="2.7"/>
<circle cx="220.9" cy="1463.7" r="2.7"/>
<circle cx="220.9" cy="1470.3" r="2.7"/>
<circle cx="220.9" cy="1472.5" r="2.7"/>
<circle cx="220.9" cy="1480.1" r="2.7"/>
<circle cx="220.9" cy="1503.1" r="2.7"/>
<circle cx="220.9" cy="1520.7" r="2.7"/>
<circle cx="220.9" cy="1523.9" r="2.7"/>
<circle cx="232.5" cy="1393.7" r="2.7"/>
<circle cx="232.5" cy="1413.4" r="2.7"/>
<circle cx="232.5" cy="1445.1" r="2.7"/>
<circle cx="232.5" cy="1470.3" r="2.7"/>
<circle cx="232.5" cy="1486.7" r="2.7"/>
<circle cx="232.5" cy="1526.1" r="2.7"/>
<circle cx="232.5" cy="1478.6" r="2.7"/>
<circle cx="244.1" cy="1387.5" r="2.7"/>
<circle cx="244.1" cy="1405.0" r="2.7"/>
<circle cx="244.1" cy="1448.0" r="2.7"/>
<circle cx="244.1" cy="1482.8" r="2.7"/>
<circle cx="244.1" cy="1509.3" r="2.7"/>
<circle cx="255.7" cy="1445.1" r="2.7"/>
<circle cx="255.7" cy="1497.7" r="2.7"/>
<circle cx="255.7" cy="1503.6" r="2.7"/>
<circle cx="267.2" cy="1433.5" r="2.7"/>
<circle cx="267.2" cy="1486.7" r="2.7"/>
<circle cx="267.2" cy="1518.5" r="2.7"/>
<circle cx="278.8" cy="1510.8" r="2.7"/>
<circle cx="290.4" cy="1435.7" r="2.7"/>
<circle cx="290.4" cy="1481.2" r="2.7"/>
<circle cx="290.4" cy="1508.0" r="2.7"/>
<circle cx="313.5" cy="1369.6" r="2.7"/>
<circle cx="313.5" cy="1372.9" r="2.7"/>
<circle cx="313.5" cy="1404.2" r="2.7"/>
<circle cx="325.1" cy="1404.2" r="2.7"/>
<circle cx="325.1" cy="1422.1" r="2.7"/>
<circle cx="325.1" cy="1438.5" r="2.7"/>
<circle cx="325.1" cy="1449.9" r="2.7"/>
<circle cx="359.8" cy="1376.1" r="2.7"/>
<circle cx="359.8" cy="1473.1" r="2.7"/>
<circle cx="359.8" cy="1480.6" r="2.7"/>
<circle cx="383.0" cy="1381.0" r="2.7"/>
<circle cx="417.7" cy="1497.7" r="2.7"/>
<circle cx="417.7" cy="1500.9" r="2.7"/>
<circle cx="429.3" cy="1507.5" r="2.7"/>
<circle cx="429.3" cy="1523.5" r="2.7"/>
<circle cx="440.9" cy="1524.6" r="2.7"/>
<circle cx="452.5" cy="1486.3" r="2.7"/>
<circle cx="116.7" cy="1549.5" r="2.7"/>
<circle cx="116.7" cy="1630.5" r="2.7"/>
<circle cx="116.7" cy="1640.3" r="2.7"/>
<circle cx="128.3" cy="1561.5" r="2.7"/>
<circle cx="128.3" cy="1617.8" r="2.7"/>
<circle cx="128.3" cy="1645.6" r="2.7"/>
<circle cx="139.9" cy="1540.0" r="2.7"/>
<circle cx="139.9" cy="1585.4" r="2.7"/>
<circle cx="139.9" cy="1601.4" r="2.7"/>
<circle cx="139.9" cy="1622.8" r="2.7"/>
<circle cx="151.5" cy="1544.4" r="2.7"/>
<circle cx="151.5" cy="1553.8" r="2.7"/>
<circle cx="151.5" cy="1563.0" r="2.7"/>
<circle cx="151.5" cy="1578.8" r="2.7"/>
<circle cx="151.5" cy="1588.2" r="2.7"/>
<circle cx="151.5" cy="1591.1" r="2.7"/>
<circle cx="163.0" cy="1536.8" r="2.7"/>
<circle cx="163.0" cy="1537.9" r="2.7"/>
<circle cx="163.0" cy="1548.8" r="2.7"/>
<circle cx="163.0" cy="1571.8" r="2.7"/>
<circle cx="163.0" cy="1601.8" r="2.7"/>
<circle cx="163.0" cy="1630.3" r="2.7"/>
<circle cx="174.6" cy="1529.1" r="2.7"/>
<circle cx="174.6" cy="1536.8" r="2.7"/>
<circle cx="174.6" cy="1549.9" r="2.7"/>
<circle cx="174.6" cy="1554.3" r="2.7"/>
<circle cx="174.6" cy="1593.7" r="2.7"/>
<circle cx="174.6" cy="1622.6" r="2.7"/>
<circle cx="186.2" cy="1536.8" r="2.7"/>
<circle cx="186.2" cy="1560.4" r="2.7"/>
<circle cx="186.2" cy="1565.7" r="2.7"/>
<circle cx="186.2" cy="1575.1" r="2.7"/>
<circle cx="186.2" cy="1606.8" r="2.7"/>
<circle cx="186.2" cy="1610.8" r="2.7"/>
<circle cx="197.8" cy="1563.0" r="2.7"/>
<circle cx="197.8" cy="1604.6" r="2.7"/>
<circle cx="197.8" cy="1613.0" r="2.7"/>
<circle cx="209.3" cy="1532.4" r="2.7"/>
<circle cx="209.3" cy="1625.4" r="2.7"/>
<circle cx="220.9" cy="1536.3" r="2.7"/>
<circle cx="220.9" cy="1538.5" r="2.7"/>
<circle cx="220.9" cy="1573.3" r="2.7"/>
<circle cx="220.9" cy="1612.3" r="2.7"/>
<circle cx="220.9" cy="1618.2" r="2.7"/>
<circle cx="220.9" cy="1655.0" r="2.7"/>
<circle cx="232.5" cy="1591.5" r="2.7"/>
<circle cx="232.5" cy="1598.1" r="2.7"/>
<circle cx="232.5" cy="1641.4" r="2.7"/>
<circle cx="244.1" cy="1551.0" r="2.7"/>
<circle cx="244.1" cy="1554.3" r="2.7"/>
<circle cx="244.1" cy="1634.6" r="2.7"/>
<circle cx="244.1" cy="1663.3" r="2.7"/>
<circle cx="255.7" cy="1548.8" r="2.7"/>
<circle cx="255.7" cy="1578.4" r="2.7"/>
<circle cx="267.2" cy="1587.6" r="2.7"/>
<circle cx="267.2" cy="1597.6" r="2.7"/>
<circle cx="267.2" cy="1633.1" r="2.7"/>
<circle cx="278.8" cy="1549.2" r="2.7"/>
<circle cx="290.4" cy="1577.9" r="2.7"/>
<circle cx="290.4" cy="1581.2" r="2.7"/>
<circle cx="302.0" cy="1576.4" r="2.7"/>
<circle cx="302.0" cy="1586.5" r="2.7"/>
<circle cx="302.0" cy="1634.2" r="2.7"/>
<circle cx="313.5" cy="1627.0" r="2.7"/>
<circle cx="313.5" cy="1636.8" r="2.7"/>
<circle cx="325.1" cy="1535.7" r="2.7"/>
<circle cx="336.7" cy="1541.6" r="2.7"/>
<circle cx="336.7" cy="1640.3" r="2.7"/>
<circle cx="348.3" cy="1537.4" r="2.7"/>
<circle cx="348.3" cy="1564.1" r="2.7"/>
<circle cx="348.3" cy="1574.4" r="2.7"/>
<circle cx="359.8" cy="1562.4" r="2.7"/>
<circle cx="359.8" cy="1595.9" r="2.7"/>
<circle cx="359.8" cy="1610.8" r="2.7"/>
<circle cx="371.4" cy="1614.1" r="2.7"/>
<circle cx="383.0" cy="1560.8" r="2.7"/>
<circle cx="383.0" cy="1578.4" r="2.7"/>
<circle cx="394.6" cy="1535.7" r="2.7"/>
<circle cx="394.6" cy="1556.5" r="2.7"/>
<circle cx="394.6" cy="1579.0" r="2.7"/>
<circle cx="429.3" cy="1615.1" r="2.7"/>
<circle cx="452.5" cy="1622.2" r="2.7"/>
<circle cx="475.6" cy="1644.5" r="2.7"/>
<circle cx="487.2" cy="1641.2" r="2.7"/>
<circle cx="487.2" cy="1646.2" r="2.7"/>
<circle cx="498.8" cy="1550.3" r="2.7"/>
<circle cx="660.9" cy="1591.5" r="2.7"/>
</g>
<g clip-path="url(#clipc)">
<path d="M93.7,1445.5 L103.1,1448.7 L112.5,1451.9 L122.0,1455.0 L131.4,1458.1 L140.8,1461.2 L150.2,1464.3 L159.6,1467.3 L169.1,1470.3 L178.5,1473.3 L187.9,1476.2 L197.3,1479.1 L206.7,1481.9 L216.2,1484.7 L225.6,1487.4 L235.0,1490.0 L244.4,1492.5 L253.8,1495.0 L263.3,1497.3 L272.7,1499.6 L282.1,1501.7 L291.5,1503.8 L300.9,1505.8 L310.4,1507.7 L319.8,1509.6 L329.2,1511.4 L338.6,1513.1 L348.0,1514.7 L357.5,1516.3 L366.9,1517.9 L376.3,1519.5 L385.7,1521.0 L395.2,1522.5 L404.6,1523.9 L414.0,1525.4 L423.4,1526.8 L432.8,1528.2 L442.3,1529.6 L451.7,1531.0 L461.1,1532.3 L470.5,1533.7 L479.9,1535.0 L489.4,1536.4 L498.8,1537.7 L508.2,1539.0 L517.6,1540.4 L527.0,1541.7 L536.5,1543.0 L545.9,1544.3 L555.3,1545.6 L564.7,1546.9 L574.1,1548.2 L583.6,1549.5 L593.0,1550.8 L602.4,1552.1 L611.8,1553.3 L621.2,1554.6 L630.7,1555.9 L640.1,1557.2 L649.5,1558.5 L649.5,1642.1 L640.1,1638.8 L630.7,1635.6 L621.2,1632.4 L611.8,1629.2 L602.4,1626.0 L593.0,1622.7 L583.6,1619.5 L574.1,1616.3 L564.7,1613.1 L555.3,1609.9 L545.9,1606.7 L536.5,1603.5 L527.0,1600.3 L517.6,1597.1 L508.2,1593.9 L498.8,1590.7 L489.4,1587.5 L479.9,1584.3 L470.5,1581.2 L461.1,1578.0 L451.7,1574.8 L442.3,1571.7 L432.8,1568.6 L423.4,1565.4 L414.0,1562.3 L404.6,1559.2 L395.2,1556.1 L385.7,1553.1 L376.3,1550.0 L366.9,1547.0 L357.5,1544.1 L348.0,1541.1 L338.6,1538.2 L329.2,1535.4 L319.8,1532.6 L310.4,1529.9 L300.9,1527.3 L291.5,1524.8 L282.1,1522.4 L272.7,1520.1 L263.3,1517.9 L253.8,1515.8 L244.4,1513.8 L235.0,1511.8 L225.6,1510.0 L216.2,1508.2 L206.7,1506.5 L197.3,1504.9 L187.9,1503.3 L178.5,1501.7 L169.1,1500.2 L159.6,1498.6 L150.2,1497.1 L140.8,1495.7 L131.4,1494.2 L122.0,1492.8 L112.5,1491.3 L103.1,1489.9 L93.7,1488.5Z" fill="rgba(89,109,209,0.5)" stroke="none"/>
<path d="M93.7,1445.5 L103.1,1448.7 L112.5,1451.9 L122.0,1455.0 L131.4,1458.1 L140.8,1461.2 L150.2,1464.3 L159.6,1467.3 L169.1,1470.3 L178.5,1473.3 L187.9,1476.2 L197.3,1479.1 L206.7,1481.9 L216.2,1484.7 L225.6,1487.4 L235.0,1490.0 L244.4,1492.5 L253.8,1495.0 L263.3,1497.3 L272.7,1499.6 L282.1,1501.7 L291.5,1503.8 L300.9,1505.8 L310.4,1507.7 L319.8,1509.6 L329.2,1511.4 L338.6,1513.1 L348.0,1514.7 L357.5,1516.3 L366.9,1517.9 L376.3,1519.5 L385.7,1521.0 L395.2,1522.5 L404.6,1523.9 L414.0,1525.4 L423.4,1526.8 L432.8,1528.2 L442.3,1529.6 L451.7,1531.0 L461.1,1532.3 L470.5,1533.7 L479.9,1535.0 L489.4,1536.4 L498.8,1537.7 L508.2,1539.0 L517.6,1540.4 L527.0,1541.7 L536.5,1543.0 L545.9,1544.3 L555.3,1545.6 L564.7,1546.9 L574.1,1548.2 L583.6,1549.5 L593.0,1550.8 L602.4,1552.1 L611.8,1553.3 L621.2,1554.6 L630.7,1555.9 L640.1,1557.2 L649.5,1558.5" fill="none" stroke="#483e3e" stroke-width="1.15" stroke-dasharray="8.6 8.6" stroke-dashoffset="-7.5"/>
<path d="M93.7,1488.5 L103.1,1489.9 L112.5,1491.3 L122.0,1492.8 L131.4,1494.2 L140.8,1495.7 L150.2,1497.1 L159.6,1498.6 L169.1,1500.2 L178.5,1501.7 L187.9,1503.3 L197.3,1504.9 L206.7,1506.5 L216.2,1508.2 L225.6,1510.0 L235.0,1511.8 L244.4,1513.8 L253.8,1515.8 L263.3,1517.9 L272.7,1520.1 L282.1,1522.4 L291.5,1524.8 L300.9,1527.3 L310.4,1529.9 L319.8,1532.6 L329.2,1535.4 L338.6,1538.2 L348.0,1541.1 L357.5,1544.1 L366.9,1547.0 L376.3,1550.0 L385.7,1553.1 L395.2,1556.1 L404.6,1559.2 L414.0,1562.3 L423.4,1565.4 L432.8,1568.6 L442.3,1571.7 L451.7,1574.8 L461.1,1578.0 L470.5,1581.2 L479.9,1584.3 L489.4,1587.5 L498.8,1590.7 L508.2,1593.9 L517.6,1597.1 L527.0,1600.3 L536.5,1603.5 L545.9,1606.7 L555.3,1609.9 L564.7,1613.1 L574.1,1616.3 L583.6,1619.5 L593.0,1622.7 L602.4,1626.0 L611.8,1629.2 L621.2,1632.4 L630.7,1635.6 L640.1,1638.8 L649.5,1642.1" fill="none" stroke="#483e3e" stroke-width="1.15" stroke-dasharray="8.6 8.6"/>
<line x1="93.7" y1="1467.9" x2="649.5" y2="1602.4" stroke="#7F95D8" stroke-width="2.6" stroke-dasharray="17.5 17.5"/>
<path d="M105.4,1362.2 L114.8,1368.0 L124.2,1373.8 L133.7,1379.5 L143.1,1385.2 L152.5,1390.9 L161.9,1396.4 L171.3,1401.8 L180.7,1407.1 L190.2,1412.2 L199.6,1417.1 L209.0,1421.7 L218.4,1426.1 L227.8,1430.3 L237.2,1434.2 L246.7,1438.0 L256.1,1441.6 L265.5,1445.2 L274.9,1448.6 L284.3,1452.0 L293.7,1455.3 L303.2,1458.6 L312.6,1461.9 L322.0,1465.1 L331.4,1468.3 L340.8,1471.5 L350.2,1474.7 L359.7,1477.9 L369.1,1481.0 L378.5,1484.2 L387.9,1487.3 L397.3,1490.5 L406.7,1493.6 L416.2,1496.7 L425.6,1499.8 L435.0,1503.0 L444.4,1506.1 L453.8,1509.2 L463.2,1512.3 L472.7,1515.4 L482.1,1518.5 L491.5,1521.6 L500.9,1524.7 L510.3,1527.8 L519.7,1530.9 L529.2,1534.0 L538.6,1537.1 L548.0,1540.2 L557.4,1543.3 L566.8,1546.4 L576.2,1549.5 L585.7,1552.6 L595.1,1555.7 L604.5,1558.8 L613.9,1561.9 L623.3,1565.0 L632.7,1568.0 L642.2,1571.1 L651.6,1574.2 L661.0,1577.3 L661.0,1700.5 L651.6,1694.9 L642.2,1689.3 L632.7,1683.7 L623.3,1678.1 L613.9,1672.5 L604.5,1666.9 L595.1,1661.3 L585.7,1655.7 L576.2,1650.1 L566.8,1644.5 L557.4,1638.9 L548.0,1633.3 L538.6,1627.7 L529.2,1622.1 L519.7,1616.6 L510.3,1611.0 L500.9,1605.4 L491.5,1599.8 L482.1,1594.3 L472.7,1588.7 L463.2,1583.2 L453.8,1577.6 L444.4,1572.1 L435.0,1566.5 L425.6,1561.0 L416.2,1555.5 L406.7,1550.0 L397.3,1544.5 L387.9,1539.0 L378.5,1533.5 L369.1,1528.1 L359.7,1522.6 L350.2,1517.2 L340.8,1511.8 L331.4,1506.5 L322.0,1501.1 L312.6,1495.8 L303.2,1490.6 L293.7,1485.4 L284.3,1480.3 L274.9,1475.2 L265.5,1470.2 L256.1,1465.2 L246.7,1460.4 L237.2,1455.7 L227.8,1451.0 L218.4,1446.5 L209.0,1442.0 L199.6,1437.7 L190.2,1433.4 L180.7,1429.3 L171.3,1425.2 L161.9,1421.2 L152.5,1417.3 L143.1,1413.4 L133.7,1409.5 L124.2,1405.7 L114.8,1402.0 L105.4,1398.2Z" fill="rgba(219,89,89,0.5)" stroke="none"/>
<path d="M105.4,1362.2 L114.8,1368.0 L124.2,1373.8 L133.7,1379.5 L143.1,1385.2 L152.5,1390.9 L161.9,1396.4 L171.3,1401.8 L180.7,1407.1 L190.2,1412.2 L199.6,1417.1 L209.0,1421.7 L218.4,1426.1 L227.8,1430.3 L237.2,1434.2 L246.7,1438.0 L256.1,1441.6 L265.5,1445.2 L274.9,1448.6 L284.3,1452.0 L293.7,1455.3 L303.2,1458.6 L312.6,1461.9 L322.0,1465.1 L331.4,1468.3 L340.8,1471.5 L350.2,1474.7 L359.7,1477.9 L369.1,1481.0 L378.5,1484.2 L387.9,1487.3 L397.3,1490.5 L406.7,1493.6 L416.2,1496.7 L425.6,1499.8 L435.0,1503.0 L444.4,1506.1 L453.8,1509.2 L463.2,1512.3 L472.7,1515.4 L482.1,1518.5 L491.5,1521.6 L500.9,1524.7 L510.3,1527.8 L519.7,1530.9 L529.2,1534.0 L538.6,1537.1 L548.0,1540.2 L557.4,1543.3 L566.8,1546.4 L576.2,1549.5 L585.7,1552.6 L595.1,1555.7 L604.5,1558.8 L613.9,1561.9 L623.3,1565.0 L632.7,1568.0 L642.2,1571.1 L651.6,1574.2 L661.0,1577.3" fill="none" stroke="#483e3e" stroke-width="1.15"/>
<path d="M105.4,1398.2 L114.8,1402.0 L124.2,1405.7 L133.7,1409.5 L143.1,1413.4 L152.5,1417.3 L161.9,1421.2 L171.3,1425.2 L180.7,1429.3 L190.2,1433.4 L199.6,1437.7 L209.0,1442.0 L218.4,1446.5 L227.8,1451.0 L237.2,1455.7 L246.7,1460.4 L256.1,1465.2 L265.5,1470.2 L274.9,1475.2 L284.3,1480.3 L293.7,1485.4 L303.2,1490.6 L312.6,1495.8 L322.0,1501.1 L331.4,1506.5 L340.8,1511.8 L350.2,1517.2 L359.7,1522.6 L369.1,1528.1 L378.5,1533.5 L387.9,1539.0 L397.3,1544.5 L406.7,1550.0 L416.2,1555.5 L425.6,1561.0 L435.0,1566.5 L444.4,1572.1 L453.8,1577.6 L463.2,1583.2 L472.7,1588.7 L482.1,1594.3 L491.5,1599.8 L500.9,1605.4 L510.3,1611.0 L519.7,1616.6 L529.2,1622.1 L538.6,1627.7 L548.0,1633.3 L557.4,1638.9 L566.8,1644.5 L576.2,1650.1 L585.7,1655.7 L595.1,1661.3 L604.5,1666.9 L613.9,1672.5 L623.3,1678.1 L632.7,1683.7 L642.2,1689.3 L651.6,1694.9 L661.0,1700.5" fill="none" stroke="#483e3e" stroke-width="1.15"/>
<line x1="105.4" y1="1380.3" x2="661.0" y2="1648.5" stroke="#E3767D" stroke-width="2.6"/>
</g>
<rect x="82.0" y="1198.4" width="602.1" height="492.79999999999995" fill="none" stroke="#262626" stroke-width="1.5"/>
<line x1="74.4" y1="1669.30" x2="82.0" y2="1669.30" stroke="#262626" stroke-width="1.4"/>
<text x="70.7" y="1674.60" font-size="17.4" text-anchor="end">0.0</text>
<line x1="78.1" y1="1624.38" x2="82.0" y2="1624.38" stroke="#262626" stroke-width="1.4"/>
<line x1="74.4" y1="1579.46" x2="82.0" y2="1579.46" stroke="#262626" stroke-width="1.4"/>
<text x="70.7" y="1584.76" font-size="17.4" text-anchor="end">0.2</text>
<line x1="78.1" y1="1534.54" x2="82.0" y2="1534.54" stroke="#262626" stroke-width="1.4"/>
<line x1="74.4" y1="1489.62" x2="82.0" y2="1489.62" stroke="#262626" stroke-width="1.4"/>
<text x="70.7" y="1494.92" font-size="17.4" text-anchor="end">0.4</text>
<line x1="78.1" y1="1444.70" x2="82.0" y2="1444.70" stroke="#262626" stroke-width="1.4"/>
<line x1="74.4" y1="1399.78" x2="82.0" y2="1399.78" stroke="#262626" stroke-width="1.4"/>
<text x="70.7" y="1405.08" font-size="17.4" text-anchor="end">0.6</text>
<line x1="78.1" y1="1354.86" x2="82.0" y2="1354.86" stroke="#262626" stroke-width="1.4"/>
<line x1="74.4" y1="1309.94" x2="82.0" y2="1309.94" stroke="#262626" stroke-width="1.4"/>
<text x="70.7" y="1315.24" font-size="17.4" text-anchor="end">0.8</text>
<line x1="78.1" y1="1265.02" x2="82.0" y2="1265.02" stroke="#262626" stroke-width="1.4"/>
<line x1="74.4" y1="1220.10" x2="82.0" y2="1220.10" stroke="#262626" stroke-width="1.4"/>
<text x="70.7" y="1225.40" font-size="17.4" text-anchor="end">1.0</text>
<line x1="82.00" y1="1691.2" x2="82.00" y2="1698.7" stroke="#262626" stroke-width="1.4"/>
<text x="84.50" y="1714.40" font-size="17.4" text-anchor="middle">0</text>
<line x1="151.46" y1="1691.2" x2="151.46" y2="1695.2" stroke="#262626" stroke-width="1.4"/>
<line x1="220.93" y1="1691.2" x2="220.93" y2="1698.7" stroke="#262626" stroke-width="1.4"/>
<text x="223.43" y="1714.40" font-size="17.4" text-anchor="middle">60</text>
<line x1="290.39" y1="1691.2" x2="290.39" y2="1695.2" stroke="#262626" stroke-width="1.4"/>
<line x1="359.85" y1="1691.2" x2="359.85" y2="1698.7" stroke="#262626" stroke-width="1.4"/>
<text x="362.35" y="1714.40" font-size="17.4" text-anchor="middle">120</text>
<line x1="429.31" y1="1691.2" x2="429.31" y2="1695.2" stroke="#262626" stroke-width="1.4"/>
<line x1="498.77" y1="1691.2" x2="498.77" y2="1698.7" stroke="#262626" stroke-width="1.4"/>
<text x="501.27" y="1714.40" font-size="17.4" text-anchor="middle">180</text>
<line x1="568.24" y1="1691.2" x2="568.24" y2="1695.2" stroke="#262626" stroke-width="1.4"/>
<line x1="637.70" y1="1691.2" x2="637.70" y2="1698.7" stroke="#262626" stroke-width="1.4"/>
<text x="640.20" y="1714.40" font-size="17.4" text-anchor="middle">240</text>
<text x="-1.2" y="1225.1" font-size="32.2">(c)</text>
<text transform="translate(25.2,1647.3) rotate(-90)" font-size="26.3">Probability of favorable outcome</text>
<text x="145.9" y="1739.6" font-size="26.4">Puncture-to-reperfusion time (minutes)</text>
<rect x="435.0" y="1212.40" width="195.5" height="79.8" fill="#fff" stroke="#262626" stroke-width="1.5"/>
<circle cx="457.9" cy="1237.2" r="5.05" fill="#E03A4B"/>
<rect x="453.6" y="1263.5" width="8.6" height="8.6" fill="#fff" stroke="#A8B0E8" stroke-width="1.7"/>
<line x1="486.9" y1="1237.2" x2="535.0" y2="1237.2" stroke="#C63E55" stroke-width="2.7"/>
<line x1="486.9" y1="1267.7" x2="535.0" y2="1267.7" stroke="#3E66B4" stroke-width="2.5" stroke-dasharray="8.8 8.6"/>
<text x="541.8" y="1242.0" font-size="19.5">mTICI-3</text>
<text x="541.8" y="1272.5" font-size="19.5">mTICI-2</text>
</g>
</svg></body></html>
